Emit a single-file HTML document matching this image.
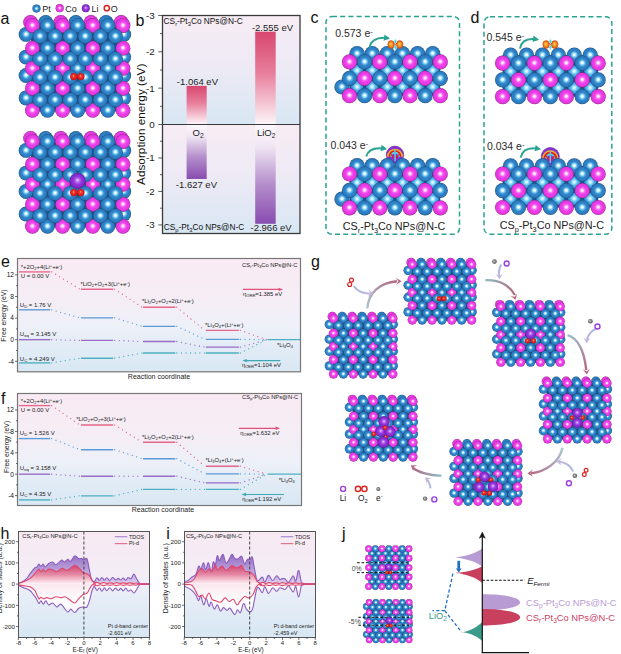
<!DOCTYPE html>
<html><head><meta charset="utf-8"><style>
html,body{margin:0;padding:0;background:#fff;width:621px;height:654px;overflow:hidden}
svg{display:block}
</style></head><body>
<svg width="621" height="654" viewBox="0 0 621 654" font-family='"Liberation Sans", sans-serif'>

<defs>
 <radialGradient id="gPt" cx="50%" cy="50%" r="50%" fx="50%" fy="47%">
  <stop offset="0" stop-color="#ffffff"/>
  <stop offset="0.13" stop-color="#e8ffff"/>
  <stop offset="0.34" stop-color="#68bdf0"/>
  <stop offset="0.52" stop-color="#3388cc"/>
  <stop offset="0.86" stop-color="#2b78bc"/>
  <stop offset="0.95" stop-color="#23609a"/>
  <stop offset="1" stop-color="#1c4b7a"/>
 </radialGradient>
 <radialGradient id="gCo" cx="50%" cy="50%" r="50%" fx="50%" fy="47%">
  <stop offset="0" stop-color="#ffffff"/>
  <stop offset="0.13" stop-color="#ffe6ff"/>
  <stop offset="0.34" stop-color="#f766f2"/>
  <stop offset="0.52" stop-color="#ef40ea"/>
  <stop offset="0.86" stop-color="#e236de"/>
  <stop offset="0.95" stop-color="#b42cac"/>
  <stop offset="1" stop-color="#7e1c7c"/>
 </radialGradient>
 <radialGradient id="gLi" cx="50%" cy="50%" r="50%" fx="50%" fy="45%">
  <stop offset="0" stop-color="#f6e6ff"/>
  <stop offset="0.18" stop-color="#c27ef2"/>
  <stop offset="0.5" stop-color="#9636de"/>
  <stop offset="0.88" stop-color="#7e26c4"/>
  <stop offset="1" stop-color="#581890"/>
 </radialGradient>
 <radialGradient id="gO" cx="50%" cy="48%" r="52%" fx="45%" fy="40%">
  <stop offset="0" stop-color="#ffb0a8"/>
  <stop offset="0.3" stop-color="#f03a2c"/>
  <stop offset="0.85" stop-color="#d8161a"/>
  <stop offset="1" stop-color="#9a1010"/>
 </radialGradient>
 <radialGradient id="gLb" cx="50%" cy="48%" r="52%">
  <stop offset="0" stop-color="#ffffff"/>
  <stop offset="0.2" stop-color="#bfefff"/>
  <stop offset="0.55" stop-color="#52b6f0"/>
  <stop offset="1" stop-color="#2c86c8"/>
 </radialGradient>
 <radialGradient id="gE" cx="50%" cy="50%" r="50%" fx="40%" fy="40%">
  <stop offset="0" stop-color="#dddddd"/>
  <stop offset="0.5" stop-color="#888888"/>
  <stop offset="1" stop-color="#555555"/>
 </radialGradient>
 <radialGradient id="gOr" cx="50%" cy="50%" r="50%" fx="45%" fy="40%">
  <stop offset="0" stop-color="#ffd060"/>
  <stop offset="0.5" stop-color="#f59a20"/>
  <stop offset="1" stop-color="#d2581a"/>
 </radialGradient>
 <linearGradient id="bgB" x1="0" y1="0" x2="0" y2="1">
  <stop offset="0" stop-color="#f7ecf4"/>
  <stop offset="0.45" stop-color="#eeeaf5"/>
  <stop offset="1" stop-color="#d8e7f3"/>
 </linearGradient>
 <linearGradient id="barR" x1="0" y1="0" x2="0" y2="1">
  <stop offset="0" stop-color="#d8466f"/>
  <stop offset="0.45" stop-color="#e87f9c"/>
  <stop offset="1" stop-color="#fdf6fa"/>
 </linearGradient>
 <linearGradient id="barP" x1="0" y1="0" x2="0" y2="1">
  <stop offset="0" stop-color="#fcf8fc"/>
  <stop offset="0.22" stop-color="#f0e6f3"/>
  <stop offset="0.6" stop-color="#b48ecb"/>
  <stop offset="1" stop-color="#884db0"/>
 </linearGradient>
 <linearGradient id="bgE" x1="0" y1="0" x2="0" y2="1">
  <stop offset="0" stop-color="#f9eaf3"/>
  <stop offset="0.35" stop-color="#f5edf5"/>
  <stop offset="0.62" stop-color="#edf0f8"/>
  <stop offset="0.76" stop-color="#e3ecf6"/>
  <stop offset="1" stop-color="#d9e8f4"/>
 </linearGradient>
 <linearGradient id="bgH" x1="0" y1="0" x2="0" y2="1">
  <stop offset="0" stop-color="#f7e9f2"/>
  <stop offset="0.42" stop-color="#f3edf6"/>
  <stop offset="0.58" stop-color="#e9eef7"/>
  <stop offset="1" stop-color="#d7e7f3"/>
 </linearGradient>
 <linearGradient id="fTd" x1="0" y1="0" x2="0" y2="1">
  <stop offset="0" stop-color="#9468c2"/>
  <stop offset="1" stop-color="#c9b3de"/>
 </linearGradient>
 <linearGradient id="fPd" x1="0" y1="0" x2="0" y2="1">
  <stop offset="0" stop-color="#d24a72"/>
  <stop offset="1" stop-color="#fff6f9"/>
 </linearGradient>
 <linearGradient id="fDn" x1="0" y1="0" x2="0" y2="1">
  <stop offset="0" stop-color="#fbeef4"/>
  <stop offset="1" stop-color="#ffffff"/>
 </linearGradient>
 <linearGradient id="arR" x1="0" y1="1" x2="1" y2="0">
  <stop offset="0" stop-color="#a9c4d6"/>
  <stop offset="0.5" stop-color="#b89ab2"/>
  <stop offset="1" stop-color="#b86a82"/>
 </linearGradient>
 <linearGradient id="arL" x1="0" y1="0" x2="1" y2="1">
  <stop offset="0" stop-color="#c9b7e0"/>
  <stop offset="1" stop-color="#a8b5d8"/>
 </linearGradient>
 <marker id="mT" viewBox="0 0 10 10" refX="5" refY="5" markerWidth="4" markerHeight="4" orient="auto">
  <path d="M0,0 L10,5 L0,10 z" fill="#2aa393"/>
 </marker>
</defs>

<rect width="621" height="654" fill="#ffffff"/>
<text x="0.50" y="24.20" font-size="16" fill="#111" text-anchor="start" >a</text>
<circle cx="36.50" cy="8.60" r="4.10" fill="url(#gPt)"/>
<text x="42.20" y="11.80" font-size="9.0" fill="#222" text-anchor="start" >Pt</text>
<circle cx="59.70" cy="8.20" r="4.10" fill="url(#gCo)"/>
<text x="65.20" y="11.80" font-size="9.0" fill="#222" text-anchor="start" >Co</text>
<circle cx="85.80" cy="8.20" r="4.00" fill="url(#gLi)"/>
<text x="91.60" y="11.80" font-size="9.0" fill="#222" text-anchor="start" >Li</text>
<circle cx="106.8" cy="8.2" r="2.6" fill="#fff" stroke="#e0201c" stroke-width="1.5"/>
<text x="110.80" y="11.80" font-size="9.0" fill="#222" text-anchor="start" >O</text>
<rect x="30.89" y="23.99" width="93.62" height="87.58" fill="#1e5288"/>
<circle cx="30.59" cy="22.48" r="7.40" fill="url(#gCo)"/>
<circle cx="45.69" cy="22.48" r="7.40" fill="url(#gPt)"/>
<circle cx="60.79" cy="22.48" r="7.40" fill="url(#gCo)"/>
<circle cx="75.89" cy="22.48" r="7.40" fill="url(#gPt)"/>
<circle cx="90.99" cy="22.48" r="7.40" fill="url(#gCo)"/>
<circle cx="106.09" cy="22.48" r="7.40" fill="url(#gPt)"/>
<circle cx="121.19" cy="22.48" r="7.40" fill="url(#gCo)"/>
<circle cx="26.06" cy="34.41" r="7.40" fill="url(#gPt)"/>
<circle cx="123.75" cy="34.41" r="7.40" fill="url(#gPt)"/>
<circle cx="26.06" cy="57.06" r="7.40" fill="url(#gPt)"/>
<circle cx="123.75" cy="57.06" r="7.40" fill="url(#gPt)"/>
<circle cx="26.06" cy="75.48" r="7.40" fill="url(#gPt)"/>
<circle cx="123.75" cy="75.48" r="7.40" fill="url(#gPt)"/>
<circle cx="26.06" cy="97.98" r="7.40" fill="url(#gPt)"/>
<circle cx="123.75" cy="97.98" r="7.40" fill="url(#gPt)"/>
<circle cx="32.40" cy="25.50" r="7.40" fill="url(#gCo)"/>
<circle cx="47.50" cy="25.50" r="7.40" fill="url(#gPt)"/>
<circle cx="62.60" cy="25.50" r="7.40" fill="url(#gCo)"/>
<circle cx="77.70" cy="25.50" r="7.40" fill="url(#gPt)"/>
<circle cx="92.80" cy="25.50" r="7.40" fill="url(#gCo)"/>
<circle cx="107.90" cy="25.50" r="7.40" fill="url(#gPt)"/>
<circle cx="123.00" cy="25.50" r="7.40" fill="url(#gCo)"/>
<circle cx="32.40" cy="48.15" r="7.40" fill="url(#gCo)"/>
<circle cx="47.50" cy="48.15" r="7.40" fill="url(#gPt)"/>
<circle cx="62.60" cy="48.15" r="7.40" fill="url(#gCo)"/>
<circle cx="77.70" cy="48.15" r="7.40" fill="url(#gPt)"/>
<circle cx="92.80" cy="48.15" r="7.40" fill="url(#gCo)"/>
<circle cx="107.90" cy="48.15" r="7.40" fill="url(#gPt)"/>
<circle cx="123.00" cy="48.15" r="7.40" fill="url(#gCo)"/>
<circle cx="32.40" cy="68.38" r="7.40" fill="url(#gCo)"/>
<circle cx="47.50" cy="68.38" r="7.40" fill="url(#gPt)"/>
<circle cx="62.60" cy="68.38" r="7.40" fill="url(#gCo)"/>
<circle cx="77.70" cy="68.38" r="7.40" fill="url(#gPt)"/>
<circle cx="92.80" cy="68.38" r="7.40" fill="url(#gCo)"/>
<circle cx="107.90" cy="68.38" r="7.40" fill="url(#gPt)"/>
<circle cx="123.00" cy="68.38" r="7.40" fill="url(#gCo)"/>
<circle cx="32.40" cy="88.32" r="7.40" fill="url(#gCo)"/>
<circle cx="47.50" cy="88.32" r="7.40" fill="url(#gPt)"/>
<circle cx="62.60" cy="88.32" r="7.40" fill="url(#gCo)"/>
<circle cx="77.70" cy="88.32" r="7.40" fill="url(#gPt)"/>
<circle cx="92.80" cy="88.32" r="7.40" fill="url(#gCo)"/>
<circle cx="107.90" cy="88.32" r="7.40" fill="url(#gPt)"/>
<circle cx="123.00" cy="88.32" r="7.40" fill="url(#gCo)"/>
<circle cx="32.40" cy="110.36" r="7.40" fill="url(#gCo)"/>
<circle cx="47.50" cy="110.36" r="7.40" fill="url(#gPt)"/>
<circle cx="62.60" cy="110.36" r="7.40" fill="url(#gCo)"/>
<circle cx="77.70" cy="110.36" r="7.40" fill="url(#gPt)"/>
<circle cx="92.80" cy="110.36" r="7.40" fill="url(#gCo)"/>
<circle cx="107.90" cy="110.36" r="7.40" fill="url(#gPt)"/>
<circle cx="123.00" cy="110.36" r="7.40" fill="url(#gCo)"/>
<circle cx="39.95" cy="36.22" r="7.40" fill="url(#gPt)"/>
<circle cx="55.05" cy="36.22" r="7.40" fill="url(#gPt)"/>
<circle cx="70.15" cy="36.22" r="7.40" fill="url(#gPt)"/>
<circle cx="85.25" cy="36.22" r="7.40" fill="url(#gPt)"/>
<circle cx="100.35" cy="36.22" r="7.40" fill="url(#gPt)"/>
<circle cx="115.45" cy="36.22" r="7.40" fill="url(#gPt)"/>
<circle cx="39.95" cy="58.87" r="7.40" fill="url(#gPt)"/>
<circle cx="55.05" cy="58.87" r="7.40" fill="url(#gPt)"/>
<circle cx="70.15" cy="58.87" r="7.40" fill="url(#gPt)"/>
<circle cx="85.25" cy="58.87" r="7.40" fill="url(#gPt)"/>
<circle cx="100.35" cy="58.87" r="7.40" fill="url(#gPt)"/>
<circle cx="115.45" cy="58.87" r="7.40" fill="url(#gPt)"/>
<circle cx="39.95" cy="77.29" r="7.40" fill="url(#gPt)"/>
<circle cx="55.05" cy="77.29" r="7.40" fill="url(#gPt)"/>
<circle cx="70.15" cy="77.29" r="7.40" fill="url(#gPt)"/>
<circle cx="85.25" cy="77.29" r="7.40" fill="url(#gPt)"/>
<circle cx="100.35" cy="77.29" r="7.40" fill="url(#gPt)"/>
<circle cx="115.45" cy="77.29" r="7.40" fill="url(#gPt)"/>
<circle cx="39.95" cy="99.79" r="7.40" fill="url(#gPt)"/>
<circle cx="55.05" cy="99.79" r="7.40" fill="url(#gPt)"/>
<circle cx="70.15" cy="99.79" r="7.40" fill="url(#gPt)"/>
<circle cx="85.25" cy="99.79" r="7.40" fill="url(#gPt)"/>
<circle cx="100.35" cy="99.79" r="7.40" fill="url(#gPt)"/>
<circle cx="115.45" cy="99.79" r="7.40" fill="url(#gPt)"/>
<circle cx="73.78" cy="76.60" r="3.70" fill="url(#gO)"/>
<circle cx="80.81" cy="76.60" r="3.70" fill="url(#gO)"/>
<rect x="30.89" y="139.99" width="93.62" height="87.58" fill="#1e5288"/>
<circle cx="30.59" cy="138.48" r="7.40" fill="url(#gCo)"/>
<circle cx="45.69" cy="138.48" r="7.40" fill="url(#gPt)"/>
<circle cx="60.79" cy="138.48" r="7.40" fill="url(#gCo)"/>
<circle cx="75.89" cy="138.48" r="7.40" fill="url(#gPt)"/>
<circle cx="90.99" cy="138.48" r="7.40" fill="url(#gCo)"/>
<circle cx="106.09" cy="138.48" r="7.40" fill="url(#gPt)"/>
<circle cx="121.19" cy="138.48" r="7.40" fill="url(#gCo)"/>
<circle cx="26.06" cy="150.41" r="7.40" fill="url(#gPt)"/>
<circle cx="123.75" cy="150.41" r="7.40" fill="url(#gPt)"/>
<circle cx="26.06" cy="173.06" r="7.40" fill="url(#gPt)"/>
<circle cx="123.75" cy="173.06" r="7.40" fill="url(#gPt)"/>
<circle cx="26.06" cy="191.48" r="7.40" fill="url(#gPt)"/>
<circle cx="123.75" cy="191.48" r="7.40" fill="url(#gPt)"/>
<circle cx="26.06" cy="213.98" r="7.40" fill="url(#gPt)"/>
<circle cx="123.75" cy="213.98" r="7.40" fill="url(#gPt)"/>
<circle cx="32.40" cy="141.50" r="7.40" fill="url(#gCo)"/>
<circle cx="47.50" cy="141.50" r="7.40" fill="url(#gPt)"/>
<circle cx="62.60" cy="141.50" r="7.40" fill="url(#gCo)"/>
<circle cx="77.70" cy="141.50" r="7.40" fill="url(#gPt)"/>
<circle cx="92.80" cy="141.50" r="7.40" fill="url(#gCo)"/>
<circle cx="107.90" cy="141.50" r="7.40" fill="url(#gPt)"/>
<circle cx="123.00" cy="141.50" r="7.40" fill="url(#gCo)"/>
<circle cx="32.40" cy="164.15" r="7.40" fill="url(#gCo)"/>
<circle cx="47.50" cy="164.15" r="7.40" fill="url(#gPt)"/>
<circle cx="62.60" cy="164.15" r="7.40" fill="url(#gCo)"/>
<circle cx="77.70" cy="164.15" r="7.40" fill="url(#gPt)"/>
<circle cx="92.80" cy="164.15" r="7.40" fill="url(#gCo)"/>
<circle cx="107.90" cy="164.15" r="7.40" fill="url(#gPt)"/>
<circle cx="123.00" cy="164.15" r="7.40" fill="url(#gCo)"/>
<circle cx="32.40" cy="184.38" r="7.40" fill="url(#gCo)"/>
<circle cx="47.50" cy="184.38" r="7.40" fill="url(#gPt)"/>
<circle cx="62.60" cy="184.38" r="7.40" fill="url(#gCo)"/>
<circle cx="77.70" cy="184.38" r="7.40" fill="url(#gPt)"/>
<circle cx="92.80" cy="184.38" r="7.40" fill="url(#gCo)"/>
<circle cx="107.90" cy="184.38" r="7.40" fill="url(#gPt)"/>
<circle cx="123.00" cy="184.38" r="7.40" fill="url(#gCo)"/>
<circle cx="32.40" cy="204.32" r="7.40" fill="url(#gCo)"/>
<circle cx="47.50" cy="204.32" r="7.40" fill="url(#gPt)"/>
<circle cx="62.60" cy="204.32" r="7.40" fill="url(#gCo)"/>
<circle cx="77.70" cy="204.32" r="7.40" fill="url(#gPt)"/>
<circle cx="92.80" cy="204.32" r="7.40" fill="url(#gCo)"/>
<circle cx="107.90" cy="204.32" r="7.40" fill="url(#gPt)"/>
<circle cx="123.00" cy="204.32" r="7.40" fill="url(#gCo)"/>
<circle cx="32.40" cy="226.36" r="7.40" fill="url(#gCo)"/>
<circle cx="47.50" cy="226.36" r="7.40" fill="url(#gPt)"/>
<circle cx="62.60" cy="226.36" r="7.40" fill="url(#gCo)"/>
<circle cx="77.70" cy="226.36" r="7.40" fill="url(#gPt)"/>
<circle cx="92.80" cy="226.36" r="7.40" fill="url(#gCo)"/>
<circle cx="107.90" cy="226.36" r="7.40" fill="url(#gPt)"/>
<circle cx="123.00" cy="226.36" r="7.40" fill="url(#gCo)"/>
<circle cx="39.95" cy="152.22" r="7.40" fill="url(#gPt)"/>
<circle cx="55.05" cy="152.22" r="7.40" fill="url(#gPt)"/>
<circle cx="70.15" cy="152.22" r="7.40" fill="url(#gPt)"/>
<circle cx="85.25" cy="152.22" r="7.40" fill="url(#gPt)"/>
<circle cx="100.35" cy="152.22" r="7.40" fill="url(#gPt)"/>
<circle cx="115.45" cy="152.22" r="7.40" fill="url(#gPt)"/>
<circle cx="39.95" cy="174.87" r="7.40" fill="url(#gPt)"/>
<circle cx="55.05" cy="174.87" r="7.40" fill="url(#gPt)"/>
<circle cx="70.15" cy="174.87" r="7.40" fill="url(#gPt)"/>
<circle cx="85.25" cy="174.87" r="7.40" fill="url(#gPt)"/>
<circle cx="100.35" cy="174.87" r="7.40" fill="url(#gPt)"/>
<circle cx="115.45" cy="174.87" r="7.40" fill="url(#gPt)"/>
<circle cx="39.95" cy="193.29" r="7.40" fill="url(#gPt)"/>
<circle cx="55.05" cy="193.29" r="7.40" fill="url(#gPt)"/>
<circle cx="70.15" cy="193.29" r="7.40" fill="url(#gPt)"/>
<circle cx="85.25" cy="193.29" r="7.40" fill="url(#gPt)"/>
<circle cx="100.35" cy="193.29" r="7.40" fill="url(#gPt)"/>
<circle cx="115.45" cy="193.29" r="7.40" fill="url(#gPt)"/>
<circle cx="39.95" cy="215.79" r="7.40" fill="url(#gPt)"/>
<circle cx="55.05" cy="215.79" r="7.40" fill="url(#gPt)"/>
<circle cx="70.15" cy="215.79" r="7.40" fill="url(#gPt)"/>
<circle cx="85.25" cy="215.79" r="7.40" fill="url(#gPt)"/>
<circle cx="100.35" cy="215.79" r="7.40" fill="url(#gPt)"/>
<circle cx="115.45" cy="215.79" r="7.40" fill="url(#gPt)"/>
<circle cx="77.60" cy="180.90" r="8.00" fill="url(#gLi)"/>
<circle cx="73.78" cy="192.60" r="3.70" fill="url(#gO)"/>
<circle cx="80.81" cy="192.60" r="3.70" fill="url(#gO)"/>
<text x="135.60" y="25.90" font-size="16" fill="#111" text-anchor="start" >b</text>
<rect x="162.5" y="15.5" width="137.5" height="109.0" fill="url(#bgB)"/>
<rect x="162.5" y="124.5" width="137.5" height="109.0" fill="url(#bgB)"/>
<rect x="186.6" y="85.84" width="20.1" height="38.66" fill="url(#barR)"/>
<rect x="255.2" y="31.67" width="20.5" height="92.83" fill="url(#barR)"/>
<rect x="186.6" y="124.5" width="20.1" height="54.45" fill="url(#barP)"/>
<rect x="255.2" y="124.5" width="20.5" height="99.26" fill="url(#barP)"/>
<rect x="162.5" y="15.5" width="137.5" height="218.0" fill="none" stroke="#3a3a3a" stroke-width="1.3"/>
<line x1="162.5" y1="124.5" x2="300.0" y2="124.5" stroke="#3a3a3a" stroke-width="1"/>
<line x1="158.3" y1="124.50" x2="162.5" y2="124.50" stroke="#333" stroke-width="0.8"/>
<text x="154.70" y="128.00" font-size="9.8" fill="#222" text-anchor="end" >0</text>
<line x1="160.0" y1="106.33" x2="162.5" y2="106.33" stroke="#333" stroke-width="0.8"/>
<line x1="158.3" y1="88.17" x2="162.5" y2="88.17" stroke="#333" stroke-width="0.8"/>
<text x="154.70" y="91.67" font-size="9.8" fill="#222" text-anchor="end" >-1</text>
<line x1="160.0" y1="70.00" x2="162.5" y2="70.00" stroke="#333" stroke-width="0.8"/>
<line x1="158.3" y1="51.83" x2="162.5" y2="51.83" stroke="#333" stroke-width="0.8"/>
<text x="154.70" y="55.33" font-size="9.8" fill="#222" text-anchor="end" >-2</text>
<line x1="160.0" y1="33.67" x2="162.5" y2="33.67" stroke="#333" stroke-width="0.8"/>
<line x1="158.3" y1="15.50" x2="162.5" y2="15.50" stroke="#333" stroke-width="0.8"/>
<text x="154.70" y="19.00" font-size="9.8" fill="#222" text-anchor="end" >-3</text>
<line x1="158.3" y1="157.97" x2="162.5" y2="157.97" stroke="#333" stroke-width="0.8"/>
<text x="154.70" y="161.47" font-size="9.8" fill="#222" text-anchor="end" >-1</text>
<line x1="160.0" y1="141.23" x2="162.5" y2="141.23" stroke="#333" stroke-width="0.8"/>
<line x1="158.3" y1="191.43" x2="162.5" y2="191.43" stroke="#333" stroke-width="0.8"/>
<text x="154.70" y="194.93" font-size="9.8" fill="#222" text-anchor="end" >-2</text>
<line x1="160.0" y1="174.70" x2="162.5" y2="174.70" stroke="#333" stroke-width="0.8"/>
<line x1="158.3" y1="224.90" x2="162.5" y2="224.90" stroke="#333" stroke-width="0.8"/>
<text x="154.70" y="228.40" font-size="9.8" fill="#222" text-anchor="end" >-3</text>
<line x1="160.0" y1="208.17" x2="162.5" y2="208.17" stroke="#333" stroke-width="0.8"/>
<text transform="translate(144.6,124.3) rotate(-90)" font-size="11.8" text-anchor="middle" fill="#111">Adsorption energy (eV)</text>
<text x="163.60" y="24.00" font-size="8.3" fill="#111" text-anchor="start" >CS<tspan baseline-shift="-25%" font-size="70%">r</tspan>-Pt<tspan baseline-shift="-25%" font-size="70%">3</tspan>Co NPs@N-C</text>
<text x="163.80" y="229.80" font-size="8.3" fill="#111" text-anchor="start" >CS<tspan baseline-shift="-25%" font-size="70%">p</tspan>-Pt<tspan baseline-shift="-25%" font-size="70%">3</tspan>Co NPs@N-C</text>
<text x="197.40" y="84.50" font-size="9.5" fill="#222" text-anchor="middle" >-1.064 eV</text>
<text x="272.50" y="31.10" font-size="9.5" fill="#222" text-anchor="middle" >-2.555 eV</text>
<text x="196.40" y="187.80" font-size="9.5" fill="#222" text-anchor="middle" >-1.627 eV</text>
<text x="271.10" y="230.60" font-size="9.5" fill="#222" text-anchor="middle" >-2.966 eV</text>
<text x="192.50" y="135.80" font-size="9.5" fill="#222" text-anchor="start" >O<tspan baseline-shift="-25%" font-size="70%">2</tspan></text>
<text x="256.90" y="135.80" font-size="9.5" fill="#222" text-anchor="start" >LiO<tspan baseline-shift="-25%" font-size="70%">2</tspan></text>
<text x="310.50" y="22.50" font-size="16" fill="#111" text-anchor="start" >c</text>
<text x="470.50" y="23.00" font-size="16" fill="#111" text-anchor="start" >d</text>
<rect x="326" y="16.5" width="133.5" height="217.8" rx="6" fill="none" stroke="#2aa393" stroke-width="1.5" stroke-dasharray="5,3.2"/>
<rect x="484" y="16.8" width="127.8" height="217.4" rx="6" fill="none" stroke="#2aa393" stroke-width="1.5" stroke-dasharray="5,3.2"/>
<rect x="349.50" y="53.60" width="90.78" height="42.10" fill="#1e5288"/>
<circle cx="341.94" cy="87.00" r="7.60" fill="url(#gPt)"/>
<circle cx="357.06" cy="53.60" r="7.60" fill="url(#gPt)"/>
<circle cx="372.19" cy="53.60" r="7.60" fill="url(#gPt)"/>
<circle cx="387.32" cy="53.60" r="7.60" fill="url(#gPt)"/>
<circle cx="402.45" cy="53.60" r="7.60" fill="url(#gPt)"/>
<circle cx="417.59" cy="53.60" r="7.60" fill="url(#gPt)"/>
<circle cx="432.72" cy="53.60" r="7.60" fill="url(#gPt)"/>
<circle cx="357.06" cy="70.60" r="6.08" fill="url(#gLb)"/>
<circle cx="372.19" cy="70.60" r="6.08" fill="url(#gLb)"/>
<circle cx="387.32" cy="70.60" r="6.08" fill="url(#gLb)"/>
<circle cx="402.45" cy="70.60" r="6.08" fill="url(#gLb)"/>
<circle cx="417.59" cy="70.60" r="6.08" fill="url(#gLb)"/>
<circle cx="432.72" cy="70.60" r="6.08" fill="url(#gLb)"/>
<circle cx="357.06" cy="87.00" r="6.08" fill="url(#gLb)"/>
<circle cx="372.19" cy="87.00" r="6.08" fill="url(#gLb)"/>
<circle cx="387.32" cy="87.00" r="6.08" fill="url(#gLb)"/>
<circle cx="402.45" cy="87.00" r="6.08" fill="url(#gLb)"/>
<circle cx="417.59" cy="87.00" r="6.08" fill="url(#gLb)"/>
<circle cx="432.72" cy="87.00" r="6.08" fill="url(#gLb)"/>
<circle cx="349.50" cy="61.90" r="7.60" fill="url(#gCo)"/>
<circle cx="364.63" cy="61.90" r="7.60" fill="url(#gPt)"/>
<circle cx="379.76" cy="61.90" r="7.60" fill="url(#gCo)"/>
<circle cx="394.89" cy="61.90" r="7.60" fill="url(#gPt)"/>
<circle cx="410.02" cy="61.90" r="7.60" fill="url(#gCo)"/>
<circle cx="425.15" cy="61.90" r="7.60" fill="url(#gPt)"/>
<circle cx="440.28" cy="61.90" r="7.60" fill="url(#gCo)"/>
<circle cx="349.50" cy="78.30" r="7.60" fill="url(#gPt)"/>
<circle cx="364.63" cy="78.30" r="7.60" fill="url(#gCo)"/>
<circle cx="379.76" cy="78.30" r="7.60" fill="url(#gPt)"/>
<circle cx="394.89" cy="78.30" r="7.60" fill="url(#gCo)"/>
<circle cx="410.02" cy="78.30" r="7.60" fill="url(#gPt)"/>
<circle cx="425.15" cy="78.30" r="7.60" fill="url(#gCo)"/>
<circle cx="440.28" cy="78.30" r="7.60" fill="url(#gPt)"/>
<circle cx="349.50" cy="95.70" r="7.60" fill="url(#gCo)"/>
<circle cx="364.63" cy="95.70" r="7.60" fill="url(#gPt)"/>
<circle cx="379.76" cy="95.70" r="7.60" fill="url(#gCo)"/>
<circle cx="394.89" cy="95.70" r="7.60" fill="url(#gPt)"/>
<circle cx="410.02" cy="95.70" r="7.60" fill="url(#gCo)"/>
<circle cx="425.15" cy="95.70" r="7.60" fill="url(#gPt)"/>
<circle cx="440.28" cy="95.70" r="7.60" fill="url(#gCo)"/>
<circle cx="395.0" cy="154.8" r="8.7" fill="#8a2fd6" stroke="#5a1a90" stroke-width="0.6"/>
<path d="M387.87,156.71 A7.13,7.13 0 0 1 402.13,156.71" stroke="#f2b020" stroke-width="1.74" fill="none"/>
<path d="M389.43,156.71 A5.57,5.57 0 0 1 400.57,156.71" stroke="#e81c10" stroke-width="1.74" fill="none"/>
<path d="M391.00,156.71 A4.00,4.00 0 0 1 399.00,156.71" stroke="#5ad8e0" stroke-width="1.74" fill="none"/>
<path d="M391.08,154.37 L395.00,159.15 L398.92,154.37" stroke="#e81c10" stroke-width="1.2" fill="none"/>
<path d="M395.00,149.58 L395.00,160.89" stroke="#58c8f0" stroke-width="1.5"/>
<rect x="349.50" y="165.70" width="90.78" height="42.10" fill="#1e5288"/>
<circle cx="341.94" cy="199.10" r="7.60" fill="url(#gPt)"/>
<circle cx="357.06" cy="165.70" r="7.60" fill="url(#gPt)"/>
<circle cx="372.19" cy="165.70" r="7.60" fill="url(#gPt)"/>
<circle cx="387.32" cy="165.70" r="7.60" fill="url(#gPt)"/>
<circle cx="402.45" cy="165.70" r="7.60" fill="url(#gPt)"/>
<circle cx="417.59" cy="165.70" r="7.60" fill="url(#gPt)"/>
<circle cx="432.72" cy="165.70" r="7.60" fill="url(#gPt)"/>
<circle cx="357.06" cy="182.70" r="6.08" fill="url(#gLb)"/>
<circle cx="372.19" cy="182.70" r="6.08" fill="url(#gLb)"/>
<circle cx="387.32" cy="182.70" r="6.08" fill="url(#gLb)"/>
<circle cx="402.45" cy="182.70" r="6.08" fill="url(#gLb)"/>
<circle cx="417.59" cy="182.70" r="6.08" fill="url(#gLb)"/>
<circle cx="432.72" cy="182.70" r="6.08" fill="url(#gLb)"/>
<circle cx="357.06" cy="199.10" r="6.08" fill="url(#gLb)"/>
<circle cx="372.19" cy="199.10" r="6.08" fill="url(#gLb)"/>
<circle cx="387.32" cy="199.10" r="6.08" fill="url(#gLb)"/>
<circle cx="402.45" cy="199.10" r="6.08" fill="url(#gLb)"/>
<circle cx="417.59" cy="199.10" r="6.08" fill="url(#gLb)"/>
<circle cx="432.72" cy="199.10" r="6.08" fill="url(#gLb)"/>
<circle cx="349.50" cy="174.00" r="7.60" fill="url(#gCo)"/>
<circle cx="364.63" cy="174.00" r="7.60" fill="url(#gPt)"/>
<circle cx="379.76" cy="174.00" r="7.60" fill="url(#gCo)"/>
<circle cx="394.89" cy="174.00" r="7.60" fill="url(#gPt)"/>
<circle cx="410.02" cy="174.00" r="7.60" fill="url(#gCo)"/>
<circle cx="425.15" cy="174.00" r="7.60" fill="url(#gPt)"/>
<circle cx="440.28" cy="174.00" r="7.60" fill="url(#gCo)"/>
<circle cx="349.50" cy="190.40" r="7.60" fill="url(#gPt)"/>
<circle cx="364.63" cy="190.40" r="7.60" fill="url(#gCo)"/>
<circle cx="379.76" cy="190.40" r="7.60" fill="url(#gPt)"/>
<circle cx="394.89" cy="190.40" r="7.60" fill="url(#gCo)"/>
<circle cx="410.02" cy="190.40" r="7.60" fill="url(#gPt)"/>
<circle cx="425.15" cy="190.40" r="7.60" fill="url(#gCo)"/>
<circle cx="440.28" cy="190.40" r="7.60" fill="url(#gPt)"/>
<circle cx="349.50" cy="207.80" r="7.60" fill="url(#gCo)"/>
<circle cx="364.63" cy="207.80" r="7.60" fill="url(#gPt)"/>
<circle cx="379.76" cy="207.80" r="7.60" fill="url(#gCo)"/>
<circle cx="394.89" cy="207.80" r="7.60" fill="url(#gPt)"/>
<circle cx="410.02" cy="207.80" r="7.60" fill="url(#gCo)"/>
<circle cx="425.15" cy="207.80" r="7.60" fill="url(#gPt)"/>
<circle cx="440.28" cy="207.80" r="7.60" fill="url(#gCo)"/>
<rect x="502.60" y="55.10" width="95.58" height="41.60" fill="#1e5288"/>
<circle cx="510.56" cy="55.10" r="7.60" fill="url(#gPt)"/>
<circle cx="526.50" cy="55.10" r="7.60" fill="url(#gPt)"/>
<circle cx="542.43" cy="55.10" r="7.60" fill="url(#gPt)"/>
<circle cx="558.36" cy="55.10" r="7.60" fill="url(#gPt)"/>
<circle cx="574.29" cy="55.10" r="7.60" fill="url(#gPt)"/>
<circle cx="590.22" cy="55.10" r="7.60" fill="url(#gPt)"/>
<circle cx="510.56" cy="71.50" r="6.08" fill="url(#gLb)"/>
<circle cx="526.50" cy="71.50" r="6.08" fill="url(#gLb)"/>
<circle cx="542.43" cy="71.50" r="6.08" fill="url(#gLb)"/>
<circle cx="558.36" cy="71.50" r="6.08" fill="url(#gLb)"/>
<circle cx="574.29" cy="71.50" r="6.08" fill="url(#gLb)"/>
<circle cx="590.22" cy="71.50" r="6.08" fill="url(#gLb)"/>
<circle cx="510.56" cy="88.00" r="6.08" fill="url(#gLb)"/>
<circle cx="526.50" cy="88.00" r="6.08" fill="url(#gLb)"/>
<circle cx="542.43" cy="88.00" r="6.08" fill="url(#gLb)"/>
<circle cx="558.36" cy="88.00" r="6.08" fill="url(#gLb)"/>
<circle cx="574.29" cy="88.00" r="6.08" fill="url(#gLb)"/>
<circle cx="590.22" cy="88.00" r="6.08" fill="url(#gLb)"/>
<circle cx="502.60" cy="63.20" r="7.60" fill="url(#gCo)"/>
<circle cx="518.53" cy="63.20" r="7.60" fill="url(#gPt)"/>
<circle cx="534.46" cy="63.20" r="7.60" fill="url(#gCo)"/>
<circle cx="550.39" cy="63.20" r="7.60" fill="url(#gPt)"/>
<circle cx="566.32" cy="63.20" r="7.60" fill="url(#gCo)"/>
<circle cx="582.25" cy="63.20" r="7.60" fill="url(#gPt)"/>
<circle cx="598.18" cy="63.20" r="7.60" fill="url(#gCo)"/>
<circle cx="502.60" cy="79.90" r="7.60" fill="url(#gPt)"/>
<circle cx="518.53" cy="79.90" r="7.60" fill="url(#gCo)"/>
<circle cx="534.46" cy="79.90" r="7.60" fill="url(#gPt)"/>
<circle cx="550.39" cy="79.90" r="7.60" fill="url(#gCo)"/>
<circle cx="566.32" cy="79.90" r="7.60" fill="url(#gPt)"/>
<circle cx="582.25" cy="79.90" r="7.60" fill="url(#gCo)"/>
<circle cx="598.18" cy="79.90" r="7.60" fill="url(#gPt)"/>
<circle cx="502.60" cy="96.70" r="7.60" fill="url(#gCo)"/>
<circle cx="518.53" cy="96.70" r="7.60" fill="url(#gPt)"/>
<circle cx="534.46" cy="96.70" r="7.60" fill="url(#gCo)"/>
<circle cx="550.39" cy="96.70" r="7.60" fill="url(#gPt)"/>
<circle cx="566.32" cy="96.70" r="7.60" fill="url(#gCo)"/>
<circle cx="582.25" cy="96.70" r="7.60" fill="url(#gPt)"/>
<circle cx="598.18" cy="96.70" r="7.60" fill="url(#gCo)"/>
<circle cx="550.3" cy="156.6" r="9.1" fill="#8a2fd6" stroke="#5a1a90" stroke-width="0.6"/>
<path d="M542.84,158.60 A7.46,7.46 0 0 1 557.76,158.60" stroke="#f2b020" stroke-width="1.82" fill="none"/>
<path d="M544.48,158.60 A5.82,5.82 0 0 1 556.12,158.60" stroke="#e81c10" stroke-width="1.82" fill="none"/>
<path d="M546.11,158.60 A4.19,4.19 0 0 1 554.49,158.60" stroke="#5ad8e0" stroke-width="1.82" fill="none"/>
<path d="M546.20,156.14 L550.30,161.15 L554.39,156.14" stroke="#e81c10" stroke-width="1.2" fill="none"/>
<path d="M550.30,151.14 L550.30,162.97" stroke="#58c8f0" stroke-width="1.5"/>
<rect x="502.60" y="165.90" width="95.58" height="41.60" fill="#1e5288"/>
<circle cx="510.56" cy="165.90" r="7.60" fill="url(#gPt)"/>
<circle cx="526.50" cy="165.90" r="7.60" fill="url(#gPt)"/>
<circle cx="542.43" cy="165.90" r="7.60" fill="url(#gPt)"/>
<circle cx="558.36" cy="165.90" r="7.60" fill="url(#gPt)"/>
<circle cx="574.29" cy="165.90" r="7.60" fill="url(#gPt)"/>
<circle cx="590.22" cy="165.90" r="7.60" fill="url(#gPt)"/>
<circle cx="510.56" cy="182.30" r="6.08" fill="url(#gLb)"/>
<circle cx="526.50" cy="182.30" r="6.08" fill="url(#gLb)"/>
<circle cx="542.43" cy="182.30" r="6.08" fill="url(#gLb)"/>
<circle cx="558.36" cy="182.30" r="6.08" fill="url(#gLb)"/>
<circle cx="574.29" cy="182.30" r="6.08" fill="url(#gLb)"/>
<circle cx="590.22" cy="182.30" r="6.08" fill="url(#gLb)"/>
<circle cx="510.56" cy="198.80" r="6.08" fill="url(#gLb)"/>
<circle cx="526.50" cy="198.80" r="6.08" fill="url(#gLb)"/>
<circle cx="542.43" cy="198.80" r="6.08" fill="url(#gLb)"/>
<circle cx="558.36" cy="198.80" r="6.08" fill="url(#gLb)"/>
<circle cx="574.29" cy="198.80" r="6.08" fill="url(#gLb)"/>
<circle cx="590.22" cy="198.80" r="6.08" fill="url(#gLb)"/>
<circle cx="502.60" cy="174.00" r="7.60" fill="url(#gCo)"/>
<circle cx="518.53" cy="174.00" r="7.60" fill="url(#gPt)"/>
<circle cx="534.46" cy="174.00" r="7.60" fill="url(#gCo)"/>
<circle cx="550.39" cy="174.00" r="7.60" fill="url(#gPt)"/>
<circle cx="566.32" cy="174.00" r="7.60" fill="url(#gCo)"/>
<circle cx="582.25" cy="174.00" r="7.60" fill="url(#gPt)"/>
<circle cx="598.18" cy="174.00" r="7.60" fill="url(#gCo)"/>
<circle cx="502.60" cy="190.70" r="7.60" fill="url(#gPt)"/>
<circle cx="518.53" cy="190.70" r="7.60" fill="url(#gCo)"/>
<circle cx="534.46" cy="190.70" r="7.60" fill="url(#gPt)"/>
<circle cx="550.39" cy="190.70" r="7.60" fill="url(#gCo)"/>
<circle cx="566.32" cy="190.70" r="7.60" fill="url(#gPt)"/>
<circle cx="582.25" cy="190.70" r="7.60" fill="url(#gCo)"/>
<circle cx="598.18" cy="190.70" r="7.60" fill="url(#gPt)"/>
<circle cx="502.60" cy="207.50" r="7.60" fill="url(#gCo)"/>
<circle cx="518.53" cy="207.50" r="7.60" fill="url(#gPt)"/>
<circle cx="534.46" cy="207.50" r="7.60" fill="url(#gCo)"/>
<circle cx="550.39" cy="207.50" r="7.60" fill="url(#gPt)"/>
<circle cx="566.32" cy="207.50" r="7.60" fill="url(#gCo)"/>
<circle cx="582.25" cy="207.50" r="7.60" fill="url(#gPt)"/>
<circle cx="598.18" cy="207.50" r="7.60" fill="url(#gCo)"/>
<ellipse cx="391.10" cy="44.50" rx="3.3" ry="3.9" fill="url(#gOr)" stroke="#d83a10" stroke-width="0.5"/>
<ellipse cx="399.70" cy="44.50" rx="3.3" ry="3.9" fill="url(#gOr)" stroke="#d83a10" stroke-width="0.5"/>
<path d="M395.4,38.9 L396.7,41.3 L395.4,43.9 L394.09999999999997,41.3 Z" fill="#38e0ec"/>
<path d="M395.4,44.7 L396.59999999999997,47.3 L395.4,50.1 L394.2,47.3 Z" fill="#38e0ec"/>
<path d="M393.79999999999995,43.0 L395.4,44.8 L397.0,43.0" stroke="#e02010" stroke-width="0.7" fill="none"/>
<ellipse cx="546.10" cy="44.50" rx="3.3" ry="3.9" fill="url(#gOr)" stroke="#d83a10" stroke-width="0.5"/>
<ellipse cx="554.70" cy="44.50" rx="3.3" ry="3.9" fill="url(#gOr)" stroke="#d83a10" stroke-width="0.5"/>
<path d="M550.4,38.9 L551.6999999999999,41.3 L550.4,43.9 L549.1,41.3 Z" fill="#38e0ec"/>
<path d="M550.4,44.7 L551.6,47.3 L550.4,50.1 L549.1999999999999,47.3 Z" fill="#38e0ec"/>
<path d="M548.8,43.0 L550.4,44.8 L552.0,43.0" stroke="#e02010" stroke-width="0.7" fill="none"/>
<path d="M369.4,47.6 Q372,36 388.5,38.2" stroke="#2aa393" stroke-width="2" fill="none"/>
<path d="M389.99,38.40 L383.62,40.78 L384.46,34.43 z" fill="#2aa393"/>
<path d="M520.0,48.6 Q522,37 537.5,39.5" stroke="#2aa393" stroke-width="2" fill="none"/>
<path d="M538.98,39.74 L532.55,41.94 L533.57,35.62 z" fill="#2aa393"/>
<path d="M366.2,156.6 Q369,146 385.5,148.7" stroke="#2aa393" stroke-width="2" fill="none"/>
<path d="M386.98,148.94 L380.54,151.13 L381.58,144.82 z" fill="#2aa393"/>
<path d="M520.8,157.6 Q523,146 539.5,148.9" stroke="#2aa393" stroke-width="2" fill="none"/>
<path d="M540.98,149.16 L534.51,151.27 L535.62,144.97 z" fill="#2aa393"/>
<text x="335.20" y="37.00" font-size="10.5" fill="#2a2a2a" text-anchor="start" >0.573 e<tspan baseline-shift="45%" font-size="70%">-</tspan></text>
<text x="486.50" y="40.80" font-size="10.5" fill="#2a2a2a" text-anchor="start" >0.545 e<tspan baseline-shift="45%" font-size="70%">-</tspan></text>
<text x="330.60" y="148.80" font-size="10.5" fill="#2a2a2a" text-anchor="start" >0.043 e<tspan baseline-shift="45%" font-size="70%">-</tspan></text>
<text x="486.90" y="149.70" font-size="10.5" fill="#2a2a2a" text-anchor="start" >0.034 e<tspan baseline-shift="45%" font-size="70%">-</tspan></text>
<text x="342.70" y="229.50" font-size="10.8" fill="#222" text-anchor="start" >CS<tspan baseline-shift="-38%" font-size="68%">r</tspan>-Pt<tspan baseline-shift="-38%" font-size="68%">3</tspan>Co NPs@N-C</text>
<text x="499.70" y="228.70" font-size="10.8" fill="#222" text-anchor="start" >CS<tspan baseline-shift="-38%" font-size="68%">p</tspan>-Pt<tspan baseline-shift="-38%" font-size="68%">3</tspan>Co NPs@N-C</text>
<rect x="17.5" y="258.5" width="283.0" height="113.30000000000001" fill="url(#bgE)"/>
<text x="1.00" y="266.80" font-size="16" fill="#111" text-anchor="start" >e</text>
<line x1="19.0" y1="271.9" x2="50.2" y2="271.9" stroke="#e5688a" stroke-width="1.35"/>
<line x1="51.7" y1="271.9" x2="80.0" y2="289.2" stroke="#e5688a" stroke-width="1.3" stroke-dasharray="0.01,4.6" stroke-linecap="round"/>
<line x1="81.0" y1="289.2" x2="113.2" y2="289.2" stroke="#e5688a" stroke-width="1.35"/>
<line x1="114.7" y1="289.2" x2="142.0" y2="307.2" stroke="#e5688a" stroke-width="1.3" stroke-dasharray="0.01,4.6" stroke-linecap="round"/>
<line x1="143.0" y1="307.2" x2="175.3" y2="307.2" stroke="#e5688a" stroke-width="1.35"/>
<line x1="176.8" y1="307.2" x2="204.8" y2="330.4" stroke="#e5688a" stroke-width="1.3" stroke-dasharray="0.01,4.6" stroke-linecap="round"/>
<line x1="205.8" y1="330.4" x2="238.9" y2="330.4" stroke="#e5688a" stroke-width="1.35"/>
<line x1="240.4" y1="330.4" x2="266.5" y2="339.7" stroke="#e5688a" stroke-width="1.3" stroke-dasharray="0.01,4.6" stroke-linecap="round"/>
<line x1="19.0" y1="309.8" x2="50.2" y2="309.8" stroke="#5a9ad6" stroke-width="1.35"/>
<line x1="51.7" y1="309.8" x2="80.0" y2="317.8" stroke="#5a9ad6" stroke-width="1.3" stroke-dasharray="0.01,4.6" stroke-linecap="round"/>
<line x1="81.0" y1="317.8" x2="113.2" y2="317.8" stroke="#5a9ad6" stroke-width="1.35"/>
<line x1="114.7" y1="317.8" x2="142.0" y2="326.3" stroke="#5a9ad6" stroke-width="1.3" stroke-dasharray="0.01,4.6" stroke-linecap="round"/>
<line x1="143.0" y1="326.3" x2="175.3" y2="326.3" stroke="#5a9ad6" stroke-width="1.35"/>
<line x1="176.8" y1="326.3" x2="204.8" y2="339.4" stroke="#5a9ad6" stroke-width="1.3" stroke-dasharray="0.01,4.6" stroke-linecap="round"/>
<line x1="205.8" y1="339.4" x2="238.9" y2="339.4" stroke="#5a9ad6" stroke-width="1.35"/>
<line x1="240.4" y1="339.4" x2="266.5" y2="339.7" stroke="#5a9ad6" stroke-width="1.3" stroke-dasharray="0.01,4.6" stroke-linecap="round"/>
<line x1="19.0" y1="339.7" x2="50.2" y2="339.7" stroke="#9a6cc8" stroke-width="1.35"/>
<line x1="51.7" y1="339.7" x2="80.0" y2="340.4" stroke="#9a6cc8" stroke-width="1.3" stroke-dasharray="0.01,4.6" stroke-linecap="round"/>
<line x1="81.0" y1="340.4" x2="113.2" y2="340.4" stroke="#9a6cc8" stroke-width="1.35"/>
<line x1="114.7" y1="340.4" x2="142.0" y2="341.5" stroke="#9a6cc8" stroke-width="1.3" stroke-dasharray="0.01,4.6" stroke-linecap="round"/>
<line x1="143.0" y1="341.5" x2="175.3" y2="341.5" stroke="#9a6cc8" stroke-width="1.35"/>
<line x1="176.8" y1="341.5" x2="204.8" y2="347.1" stroke="#9a6cc8" stroke-width="1.3" stroke-dasharray="0.01,4.6" stroke-linecap="round"/>
<line x1="205.8" y1="347.1" x2="238.9" y2="347.1" stroke="#9a6cc8" stroke-width="1.35"/>
<line x1="240.4" y1="347.1" x2="266.5" y2="339.7" stroke="#9a6cc8" stroke-width="1.3" stroke-dasharray="0.01,4.6" stroke-linecap="round"/>
<line x1="19.0" y1="362.9" x2="50.2" y2="362.9" stroke="#4cb0c0" stroke-width="1.35"/>
<line x1="51.7" y1="362.9" x2="80.0" y2="358.2" stroke="#4cb0c0" stroke-width="1.3" stroke-dasharray="0.01,4.6" stroke-linecap="round"/>
<line x1="81.0" y1="358.2" x2="113.2" y2="358.2" stroke="#4cb0c0" stroke-width="1.35"/>
<line x1="114.7" y1="358.2" x2="142.0" y2="353.0" stroke="#4cb0c0" stroke-width="1.3" stroke-dasharray="0.01,4.6" stroke-linecap="round"/>
<line x1="143.0" y1="353.0" x2="175.3" y2="353.0" stroke="#4cb0c0" stroke-width="1.35"/>
<line x1="176.8" y1="353.0" x2="204.8" y2="353.0" stroke="#4cb0c0" stroke-width="1.3" stroke-dasharray="0.01,4.6" stroke-linecap="round"/>
<line x1="205.8" y1="353.0" x2="238.9" y2="353.0" stroke="#4cb0c0" stroke-width="1.35"/>
<line x1="240.4" y1="353.0" x2="266.5" y2="339.7" stroke="#4cb0c0" stroke-width="1.3" stroke-dasharray="0.01,4.6" stroke-linecap="round"/>
<line x1="267.5" y1="339.7" x2="300.5" y2="339.7" stroke="#4cb0c0" stroke-width="1.3"/>
<rect x="17.5" y="258.5" width="283.0" height="113.30000000000001" fill="none" stroke="#777" stroke-width="1.2"/>
<line x1="15.0" y1="274.90" x2="17.5" y2="274.90" stroke="#333" stroke-width="0.7"/>
<text x="14.00" y="277.20" font-size="6.6" fill="#111" text-anchor="end" >12</text>
<line x1="15.0" y1="296.50" x2="17.5" y2="296.50" stroke="#333" stroke-width="0.7"/>
<text x="14.00" y="298.80" font-size="6.6" fill="#111" text-anchor="end" >8</text>
<line x1="16.0" y1="285.70" x2="17.5" y2="285.70" stroke="#333" stroke-width="0.7"/>
<line x1="15.0" y1="318.10" x2="17.5" y2="318.10" stroke="#333" stroke-width="0.7"/>
<text x="14.00" y="320.40" font-size="6.6" fill="#111" text-anchor="end" >4</text>
<line x1="16.0" y1="307.30" x2="17.5" y2="307.30" stroke="#333" stroke-width="0.7"/>
<line x1="15.0" y1="339.70" x2="17.5" y2="339.70" stroke="#333" stroke-width="0.7"/>
<text x="14.00" y="342.00" font-size="6.6" fill="#111" text-anchor="end" >0</text>
<line x1="16.0" y1="328.90" x2="17.5" y2="328.90" stroke="#333" stroke-width="0.7"/>
<line x1="15.0" y1="361.30" x2="17.5" y2="361.30" stroke="#333" stroke-width="0.7"/>
<text x="14.00" y="363.60" font-size="6.6" fill="#111" text-anchor="end" >-4</text>
<line x1="16.0" y1="350.50" x2="17.5" y2="350.50" stroke="#333" stroke-width="0.7"/>
<text transform="translate(6.1,315.5) rotate(-90)" font-size="6.93" text-anchor="middle" fill="#222">Free energy (eV)</text>
<text x="159.00" y="378.70" font-size="7.0" fill="#222" text-anchor="middle" >Reaction coordinate</text>
<line x1="243.0" y1="289.4" x2="280.1" y2="289.4" stroke="#e0507a" stroke-width="1.2"/>
<path d="M283.1,289.4 l-4.5,-1.7 l0,3.4 z" fill="#e0507a"/>
<line x1="280.3" y1="360.6" x2="245.3" y2="360.6" stroke="#3fa8b4" stroke-width="1.2"/>
<path d="M242.3,360.6 l4.5,-1.7 l0,3.4 z" fill="#3fa8b4"/>
<text x="20.80" y="269.40" font-size="5.85" fill="#222" text-anchor="start" >*+2O<tspan baseline-shift="-25%" font-size="70%">2</tspan>+4(Li<tspan baseline-shift="45%" font-size="70%">+</tspan>+e<tspan baseline-shift="45%" font-size="70%">-</tspan>)</text>
<text x="20.80" y="278.30" font-size="6.0" fill="#222" text-anchor="start" >U = 0.00 V</text>
<text x="19.80" y="306.80" font-size="6.0" fill="#222" text-anchor="start" >U<tspan baseline-shift="-25%" font-size="70%">D</tspan> = 1.76 V</text>
<text x="19.80" y="336.20" font-size="6.0" fill="#222" text-anchor="start" >U<tspan baseline-shift="-25%" font-size="70%">eq</tspan> = 3.145 V</text>
<text x="19.80" y="361.10" font-size="6.0" fill="#222" text-anchor="start" >U<tspan baseline-shift="-25%" font-size="70%">C</tspan> = 4.249 V</text>
<text x="80.40" y="285.60" font-size="5.85" fill="#222" text-anchor="start" >*LiO<tspan baseline-shift="-25%" font-size="70%">2</tspan>+O<tspan baseline-shift="-25%" font-size="70%">2</tspan>+3(Li<tspan baseline-shift="45%" font-size="70%">+</tspan>+e<tspan baseline-shift="45%" font-size="70%">-</tspan>)</text>
<text x="142.00" y="303.00" font-size="5.85" fill="#222" text-anchor="start" >*Li<tspan baseline-shift="-25%" font-size="70%">2</tspan>O<tspan baseline-shift="-25%" font-size="70%">2</tspan>+O<tspan baseline-shift="-25%" font-size="70%">2</tspan>+2(Li<tspan baseline-shift="45%" font-size="70%">+</tspan>+e<tspan baseline-shift="45%" font-size="70%">-</tspan>)</text>
<text x="205.10" y="327.10" font-size="5.85" fill="#222" text-anchor="start" >*Li<tspan baseline-shift="-25%" font-size="70%">3</tspan>O<tspan baseline-shift="-25%" font-size="70%">4</tspan>+(Li<tspan baseline-shift="45%" font-size="70%">+</tspan>+e<tspan baseline-shift="45%" font-size="70%">-</tspan>)</text>
<text x="277.00" y="347.00" font-size="5.85" fill="#222" text-anchor="start" >*Li<tspan baseline-shift="-25%" font-size="70%">4</tspan>O<tspan baseline-shift="-25%" font-size="70%">4</tspan></text>
<text x="243.00" y="296.10" font-size="5.85" fill="#222" text-anchor="start" >η<tspan baseline-shift="-25%" font-size="70%">ORR</tspan>=1.385 eV</text>
<text x="241.90" y="367.30" font-size="5.85" fill="#222" text-anchor="start" >η<tspan baseline-shift="-25%" font-size="70%">OER</tspan>=1.104 eV</text>
<text x="242.10" y="266.50" font-size="5.8" fill="#222" text-anchor="start" >CS<tspan baseline-shift="-25%" font-size="70%">r</tspan>-Pt<tspan baseline-shift="-25%" font-size="70%">3</tspan>Co NPs@N-C</text>
<rect x="17.5" y="393.5" width="284.0" height="112.0" fill="url(#bgE)"/>
<text x="1.00" y="404.30" font-size="16" fill="#111" text-anchor="start" >f</text>
<line x1="19.0" y1="405.6" x2="50.2" y2="405.6" stroke="#e5688a" stroke-width="1.35"/>
<line x1="51.7" y1="405.6" x2="80.0" y2="425.0" stroke="#e5688a" stroke-width="1.3" stroke-dasharray="0.01,4.6" stroke-linecap="round"/>
<line x1="81.0" y1="425.0" x2="113.2" y2="425.0" stroke="#e5688a" stroke-width="1.35"/>
<line x1="114.7" y1="425.0" x2="142.0" y2="442.2" stroke="#e5688a" stroke-width="1.3" stroke-dasharray="0.01,4.6" stroke-linecap="round"/>
<line x1="143.0" y1="442.2" x2="175.3" y2="442.2" stroke="#e5688a" stroke-width="1.35"/>
<line x1="176.8" y1="442.2" x2="204.8" y2="466.2" stroke="#e5688a" stroke-width="1.3" stroke-dasharray="0.01,4.6" stroke-linecap="round"/>
<line x1="205.8" y1="466.2" x2="238.9" y2="466.2" stroke="#e5688a" stroke-width="1.35"/>
<line x1="240.4" y1="466.2" x2="266.5" y2="474.2" stroke="#e5688a" stroke-width="1.3" stroke-dasharray="0.01,4.6" stroke-linecap="round"/>
<line x1="19.0" y1="438.6" x2="50.2" y2="438.6" stroke="#5a9ad6" stroke-width="1.35"/>
<line x1="51.7" y1="438.6" x2="80.0" y2="449.7" stroke="#5a9ad6" stroke-width="1.3" stroke-dasharray="0.01,4.6" stroke-linecap="round"/>
<line x1="81.0" y1="449.7" x2="113.2" y2="449.7" stroke="#5a9ad6" stroke-width="1.35"/>
<line x1="114.7" y1="449.7" x2="142.0" y2="458.7" stroke="#5a9ad6" stroke-width="1.3" stroke-dasharray="0.01,4.6" stroke-linecap="round"/>
<line x1="143.0" y1="458.7" x2="175.3" y2="458.7" stroke="#5a9ad6" stroke-width="1.35"/>
<line x1="176.8" y1="458.7" x2="204.8" y2="473.9" stroke="#5a9ad6" stroke-width="1.3" stroke-dasharray="0.01,4.6" stroke-linecap="round"/>
<line x1="205.8" y1="473.9" x2="238.9" y2="473.9" stroke="#5a9ad6" stroke-width="1.35"/>
<line x1="240.4" y1="473.9" x2="266.5" y2="474.2" stroke="#5a9ad6" stroke-width="1.3" stroke-dasharray="0.01,4.6" stroke-linecap="round"/>
<line x1="19.0" y1="474.2" x2="50.2" y2="474.2" stroke="#9a6cc8" stroke-width="1.35"/>
<line x1="51.7" y1="474.2" x2="80.0" y2="476.2" stroke="#9a6cc8" stroke-width="1.3" stroke-dasharray="0.01,4.6" stroke-linecap="round"/>
<line x1="81.0" y1="476.2" x2="113.2" y2="476.2" stroke="#9a6cc8" stroke-width="1.35"/>
<line x1="114.7" y1="476.2" x2="142.0" y2="476.2" stroke="#9a6cc8" stroke-width="1.3" stroke-dasharray="0.01,4.6" stroke-linecap="round"/>
<line x1="143.0" y1="476.2" x2="175.3" y2="476.2" stroke="#9a6cc8" stroke-width="1.35"/>
<line x1="176.8" y1="476.2" x2="204.8" y2="482.9" stroke="#9a6cc8" stroke-width="1.3" stroke-dasharray="0.01,4.6" stroke-linecap="round"/>
<line x1="205.8" y1="482.9" x2="238.9" y2="482.9" stroke="#9a6cc8" stroke-width="1.35"/>
<line x1="240.4" y1="482.9" x2="266.5" y2="474.2" stroke="#9a6cc8" stroke-width="1.3" stroke-dasharray="0.01,4.6" stroke-linecap="round"/>
<line x1="19.0" y1="499.9" x2="50.2" y2="499.9" stroke="#4cb0c0" stroke-width="1.35"/>
<line x1="51.7" y1="499.9" x2="80.0" y2="495.8" stroke="#4cb0c0" stroke-width="1.3" stroke-dasharray="0.01,4.6" stroke-linecap="round"/>
<line x1="81.0" y1="495.8" x2="113.2" y2="495.8" stroke="#4cb0c0" stroke-width="1.35"/>
<line x1="114.7" y1="495.8" x2="142.0" y2="489.4" stroke="#4cb0c0" stroke-width="1.3" stroke-dasharray="0.01,4.6" stroke-linecap="round"/>
<line x1="143.0" y1="489.4" x2="175.3" y2="489.4" stroke="#4cb0c0" stroke-width="1.35"/>
<line x1="176.8" y1="489.4" x2="204.8" y2="489.4" stroke="#4cb0c0" stroke-width="1.3" stroke-dasharray="0.01,4.6" stroke-linecap="round"/>
<line x1="205.8" y1="489.4" x2="238.9" y2="489.4" stroke="#4cb0c0" stroke-width="1.35"/>
<line x1="240.4" y1="489.4" x2="266.5" y2="474.2" stroke="#4cb0c0" stroke-width="1.3" stroke-dasharray="0.01,4.6" stroke-linecap="round"/>
<line x1="267.5" y1="474.2" x2="301.5" y2="474.2" stroke="#4cb0c0" stroke-width="1.3"/>
<rect x="17.5" y="393.5" width="284.0" height="112.0" fill="none" stroke="#777" stroke-width="1.2"/>
<line x1="15.0" y1="410.00" x2="17.5" y2="410.00" stroke="#333" stroke-width="0.7"/>
<text x="14.00" y="412.30" font-size="6.6" fill="#111" text-anchor="end" >12</text>
<line x1="15.0" y1="431.40" x2="17.5" y2="431.40" stroke="#333" stroke-width="0.7"/>
<text x="14.00" y="433.70" font-size="6.6" fill="#111" text-anchor="end" >8</text>
<line x1="16.0" y1="420.70" x2="17.5" y2="420.70" stroke="#333" stroke-width="0.7"/>
<line x1="15.0" y1="452.80" x2="17.5" y2="452.80" stroke="#333" stroke-width="0.7"/>
<text x="14.00" y="455.10" font-size="6.6" fill="#111" text-anchor="end" >4</text>
<line x1="16.0" y1="442.10" x2="17.5" y2="442.10" stroke="#333" stroke-width="0.7"/>
<line x1="15.0" y1="474.20" x2="17.5" y2="474.20" stroke="#333" stroke-width="0.7"/>
<text x="14.00" y="476.50" font-size="6.6" fill="#111" text-anchor="end" >0</text>
<line x1="16.0" y1="463.50" x2="17.5" y2="463.50" stroke="#333" stroke-width="0.7"/>
<line x1="15.0" y1="495.60" x2="17.5" y2="495.60" stroke="#333" stroke-width="0.7"/>
<text x="14.00" y="497.90" font-size="6.6" fill="#111" text-anchor="end" >-4</text>
<line x1="16.0" y1="484.90" x2="17.5" y2="484.90" stroke="#333" stroke-width="0.7"/>
<text transform="translate(8.9,446.9) rotate(-90)" font-size="6.93" text-anchor="middle" fill="#222">Free energy (eV)</text>
<text x="162.90" y="512.40" font-size="7.0" fill="#222" text-anchor="middle" >Reaction coordinate</text>
<line x1="238.9" y1="428.3" x2="277.1" y2="428.3" stroke="#e0507a" stroke-width="1.2"/>
<path d="M280.1,428.3 l-4.5,-1.7 l0,3.4 z" fill="#e0507a"/>
<line x1="284.0" y1="494.5" x2="244.5" y2="494.5" stroke="#3fa8b4" stroke-width="1.2"/>
<path d="M241.5,494.5 l4.5,-1.7 l0,3.4 z" fill="#3fa8b4"/>
<text x="20.80" y="402.80" font-size="5.85" fill="#222" text-anchor="start" >*+2O<tspan baseline-shift="-25%" font-size="70%">2</tspan>+4(Li<tspan baseline-shift="45%" font-size="70%">+</tspan>+e<tspan baseline-shift="45%" font-size="70%">-</tspan>)</text>
<text x="20.80" y="411.80" font-size="6.0" fill="#222" text-anchor="start" >U = 0.00 V</text>
<text x="19.80" y="435.20" font-size="6.0" fill="#222" text-anchor="start" >U<tspan baseline-shift="-25%" font-size="70%">D</tspan> = 1.526 V</text>
<text x="19.80" y="470.00" font-size="6.0" fill="#222" text-anchor="start" >U<tspan baseline-shift="-25%" font-size="70%">eq</tspan> = 3.158 V</text>
<text x="19.80" y="496.30" font-size="6.0" fill="#222" text-anchor="start" >U<tspan baseline-shift="-25%" font-size="70%">C</tspan> = 4.35 V</text>
<text x="76.30" y="421.00" font-size="5.85" fill="#222" text-anchor="start" >*LiO<tspan baseline-shift="-25%" font-size="70%">2</tspan>+O<tspan baseline-shift="-25%" font-size="70%">2</tspan>+3(Li<tspan baseline-shift="45%" font-size="70%">+</tspan>+e<tspan baseline-shift="45%" font-size="70%">-</tspan>)</text>
<text x="142.00" y="438.50" font-size="5.85" fill="#222" text-anchor="start" >*Li<tspan baseline-shift="-25%" font-size="70%">2</tspan>O<tspan baseline-shift="-25%" font-size="70%">2</tspan>+O<tspan baseline-shift="-25%" font-size="70%">2</tspan>+2(Li<tspan baseline-shift="45%" font-size="70%">+</tspan>+e<tspan baseline-shift="45%" font-size="70%">-</tspan>)</text>
<text x="205.40" y="462.30" font-size="5.85" fill="#222" text-anchor="start" >*Li<tspan baseline-shift="-25%" font-size="70%">3</tspan>O<tspan baseline-shift="-25%" font-size="70%">4</tspan>+(Li<tspan baseline-shift="45%" font-size="70%">+</tspan>+e<tspan baseline-shift="45%" font-size="70%">-</tspan>)</text>
<text x="278.80" y="481.60" font-size="5.85" fill="#222" text-anchor="start" >*Li<tspan baseline-shift="-25%" font-size="70%">4</tspan>O<tspan baseline-shift="-25%" font-size="70%">4</tspan></text>
<text x="240.20" y="435.20" font-size="5.85" fill="#222" text-anchor="start" >η<tspan baseline-shift="-25%" font-size="70%">ORR</tspan>=1.632 eV</text>
<text x="242.20" y="501.00" font-size="5.85" fill="#222" text-anchor="start" >η<tspan baseline-shift="-25%" font-size="70%">OER</tspan>=1.192 eV</text>
<text x="242.10" y="399.40" font-size="5.8" fill="#222" text-anchor="start" >CS<tspan baseline-shift="-25%" font-size="70%">p</tspan>-Pt<tspan baseline-shift="-25%" font-size="70%">3</tspan>Co NPs@N-C</text>
<text x="311.00" y="266.50" font-size="16" fill="#111" text-anchor="start" >g</text>
<rect x="332.51" y="317.51" width="61.26" height="57.30" fill="#1e5288"/>
<circle cx="332.31" cy="316.52" r="4.70" fill="url(#gCo)"/>
<circle cx="342.19" cy="316.52" r="4.70" fill="url(#gPt)"/>
<circle cx="352.07" cy="316.52" r="4.70" fill="url(#gCo)"/>
<circle cx="361.95" cy="316.52" r="4.70" fill="url(#gPt)"/>
<circle cx="371.83" cy="316.52" r="4.70" fill="url(#gCo)"/>
<circle cx="381.71" cy="316.52" r="4.70" fill="url(#gPt)"/>
<circle cx="391.59" cy="316.52" r="4.70" fill="url(#gCo)"/>
<circle cx="329.35" cy="324.33" r="4.70" fill="url(#gPt)"/>
<circle cx="393.27" cy="324.33" r="4.70" fill="url(#gPt)"/>
<circle cx="329.35" cy="339.15" r="4.70" fill="url(#gPt)"/>
<circle cx="393.27" cy="339.15" r="4.70" fill="url(#gPt)"/>
<circle cx="329.35" cy="351.20" r="4.70" fill="url(#gPt)"/>
<circle cx="393.27" cy="351.20" r="4.70" fill="url(#gPt)"/>
<circle cx="329.35" cy="365.92" r="4.70" fill="url(#gPt)"/>
<circle cx="393.27" cy="365.92" r="4.70" fill="url(#gPt)"/>
<circle cx="333.50" cy="318.50" r="4.70" fill="url(#gCo)"/>
<circle cx="343.38" cy="318.50" r="4.70" fill="url(#gPt)"/>
<circle cx="353.26" cy="318.50" r="4.70" fill="url(#gCo)"/>
<circle cx="363.14" cy="318.50" r="4.70" fill="url(#gPt)"/>
<circle cx="373.02" cy="318.50" r="4.70" fill="url(#gCo)"/>
<circle cx="382.90" cy="318.50" r="4.70" fill="url(#gPt)"/>
<circle cx="392.78" cy="318.50" r="4.70" fill="url(#gCo)"/>
<circle cx="333.50" cy="333.32" r="4.70" fill="url(#gCo)"/>
<circle cx="343.38" cy="333.32" r="4.70" fill="url(#gPt)"/>
<circle cx="353.26" cy="333.32" r="4.70" fill="url(#gCo)"/>
<circle cx="363.14" cy="333.32" r="4.70" fill="url(#gPt)"/>
<circle cx="373.02" cy="333.32" r="4.70" fill="url(#gCo)"/>
<circle cx="382.90" cy="333.32" r="4.70" fill="url(#gPt)"/>
<circle cx="392.78" cy="333.32" r="4.70" fill="url(#gCo)"/>
<circle cx="333.50" cy="346.56" r="4.70" fill="url(#gCo)"/>
<circle cx="343.38" cy="346.56" r="4.70" fill="url(#gPt)"/>
<circle cx="353.26" cy="346.56" r="4.70" fill="url(#gCo)"/>
<circle cx="363.14" cy="346.56" r="4.70" fill="url(#gPt)"/>
<circle cx="373.02" cy="346.56" r="4.70" fill="url(#gCo)"/>
<circle cx="382.90" cy="346.56" r="4.70" fill="url(#gPt)"/>
<circle cx="392.78" cy="346.56" r="4.70" fill="url(#gCo)"/>
<circle cx="333.50" cy="359.60" r="4.70" fill="url(#gCo)"/>
<circle cx="343.38" cy="359.60" r="4.70" fill="url(#gPt)"/>
<circle cx="353.26" cy="359.60" r="4.70" fill="url(#gCo)"/>
<circle cx="363.14" cy="359.60" r="4.70" fill="url(#gPt)"/>
<circle cx="373.02" cy="359.60" r="4.70" fill="url(#gCo)"/>
<circle cx="382.90" cy="359.60" r="4.70" fill="url(#gPt)"/>
<circle cx="392.78" cy="359.60" r="4.70" fill="url(#gCo)"/>
<circle cx="333.50" cy="374.03" r="4.70" fill="url(#gCo)"/>
<circle cx="343.38" cy="374.03" r="4.70" fill="url(#gPt)"/>
<circle cx="353.26" cy="374.03" r="4.70" fill="url(#gCo)"/>
<circle cx="363.14" cy="374.03" r="4.70" fill="url(#gPt)"/>
<circle cx="373.02" cy="374.03" r="4.70" fill="url(#gCo)"/>
<circle cx="382.90" cy="374.03" r="4.70" fill="url(#gPt)"/>
<circle cx="392.78" cy="374.03" r="4.70" fill="url(#gCo)"/>
<circle cx="338.44" cy="325.51" r="4.70" fill="url(#gPt)"/>
<circle cx="348.32" cy="325.51" r="4.70" fill="url(#gPt)"/>
<circle cx="358.20" cy="325.51" r="4.70" fill="url(#gPt)"/>
<circle cx="368.08" cy="325.51" r="4.70" fill="url(#gPt)"/>
<circle cx="377.96" cy="325.51" r="4.70" fill="url(#gPt)"/>
<circle cx="387.84" cy="325.51" r="4.70" fill="url(#gPt)"/>
<circle cx="338.44" cy="340.33" r="4.70" fill="url(#gPt)"/>
<circle cx="348.32" cy="340.33" r="4.70" fill="url(#gPt)"/>
<circle cx="358.20" cy="340.33" r="4.70" fill="url(#gPt)"/>
<circle cx="368.08" cy="340.33" r="4.70" fill="url(#gPt)"/>
<circle cx="377.96" cy="340.33" r="4.70" fill="url(#gPt)"/>
<circle cx="387.84" cy="340.33" r="4.70" fill="url(#gPt)"/>
<circle cx="338.44" cy="352.39" r="4.70" fill="url(#gPt)"/>
<circle cx="348.32" cy="352.39" r="4.70" fill="url(#gPt)"/>
<circle cx="358.20" cy="352.39" r="4.70" fill="url(#gPt)"/>
<circle cx="368.08" cy="352.39" r="4.70" fill="url(#gPt)"/>
<circle cx="377.96" cy="352.39" r="4.70" fill="url(#gPt)"/>
<circle cx="387.84" cy="352.39" r="4.70" fill="url(#gPt)"/>
<circle cx="338.44" cy="367.11" r="4.70" fill="url(#gPt)"/>
<circle cx="348.32" cy="367.11" r="4.70" fill="url(#gPt)"/>
<circle cx="358.20" cy="367.11" r="4.70" fill="url(#gPt)"/>
<circle cx="368.08" cy="367.11" r="4.70" fill="url(#gPt)"/>
<circle cx="377.96" cy="367.11" r="4.70" fill="url(#gPt)"/>
<circle cx="387.84" cy="367.11" r="4.70" fill="url(#gPt)"/>
<rect x="411.31" y="263.51" width="61.26" height="57.30" fill="#1e5288"/>
<circle cx="411.11" cy="262.52" r="4.70" fill="url(#gCo)"/>
<circle cx="420.99" cy="262.52" r="4.70" fill="url(#gPt)"/>
<circle cx="430.87" cy="262.52" r="4.70" fill="url(#gCo)"/>
<circle cx="440.75" cy="262.52" r="4.70" fill="url(#gPt)"/>
<circle cx="450.63" cy="262.52" r="4.70" fill="url(#gCo)"/>
<circle cx="460.51" cy="262.52" r="4.70" fill="url(#gPt)"/>
<circle cx="470.39" cy="262.52" r="4.70" fill="url(#gCo)"/>
<circle cx="408.15" cy="270.33" r="4.70" fill="url(#gPt)"/>
<circle cx="472.07" cy="270.33" r="4.70" fill="url(#gPt)"/>
<circle cx="408.15" cy="285.15" r="4.70" fill="url(#gPt)"/>
<circle cx="472.07" cy="285.15" r="4.70" fill="url(#gPt)"/>
<circle cx="408.15" cy="297.20" r="4.70" fill="url(#gPt)"/>
<circle cx="472.07" cy="297.20" r="4.70" fill="url(#gPt)"/>
<circle cx="408.15" cy="311.92" r="4.70" fill="url(#gPt)"/>
<circle cx="472.07" cy="311.92" r="4.70" fill="url(#gPt)"/>
<circle cx="412.30" cy="264.50" r="4.70" fill="url(#gCo)"/>
<circle cx="422.18" cy="264.50" r="4.70" fill="url(#gPt)"/>
<circle cx="432.06" cy="264.50" r="4.70" fill="url(#gCo)"/>
<circle cx="441.94" cy="264.50" r="4.70" fill="url(#gPt)"/>
<circle cx="451.82" cy="264.50" r="4.70" fill="url(#gCo)"/>
<circle cx="461.70" cy="264.50" r="4.70" fill="url(#gPt)"/>
<circle cx="471.58" cy="264.50" r="4.70" fill="url(#gCo)"/>
<circle cx="412.30" cy="279.32" r="4.70" fill="url(#gCo)"/>
<circle cx="422.18" cy="279.32" r="4.70" fill="url(#gPt)"/>
<circle cx="432.06" cy="279.32" r="4.70" fill="url(#gCo)"/>
<circle cx="441.94" cy="279.32" r="4.70" fill="url(#gPt)"/>
<circle cx="451.82" cy="279.32" r="4.70" fill="url(#gCo)"/>
<circle cx="461.70" cy="279.32" r="4.70" fill="url(#gPt)"/>
<circle cx="471.58" cy="279.32" r="4.70" fill="url(#gCo)"/>
<circle cx="412.30" cy="292.56" r="4.70" fill="url(#gCo)"/>
<circle cx="422.18" cy="292.56" r="4.70" fill="url(#gPt)"/>
<circle cx="432.06" cy="292.56" r="4.70" fill="url(#gCo)"/>
<circle cx="441.94" cy="292.56" r="4.70" fill="url(#gPt)"/>
<circle cx="451.82" cy="292.56" r="4.70" fill="url(#gCo)"/>
<circle cx="461.70" cy="292.56" r="4.70" fill="url(#gPt)"/>
<circle cx="471.58" cy="292.56" r="4.70" fill="url(#gCo)"/>
<circle cx="412.30" cy="305.60" r="4.70" fill="url(#gCo)"/>
<circle cx="422.18" cy="305.60" r="4.70" fill="url(#gPt)"/>
<circle cx="432.06" cy="305.60" r="4.70" fill="url(#gCo)"/>
<circle cx="441.94" cy="305.60" r="4.70" fill="url(#gPt)"/>
<circle cx="451.82" cy="305.60" r="4.70" fill="url(#gCo)"/>
<circle cx="461.70" cy="305.60" r="4.70" fill="url(#gPt)"/>
<circle cx="471.58" cy="305.60" r="4.70" fill="url(#gCo)"/>
<circle cx="412.30" cy="320.03" r="4.70" fill="url(#gCo)"/>
<circle cx="422.18" cy="320.03" r="4.70" fill="url(#gPt)"/>
<circle cx="432.06" cy="320.03" r="4.70" fill="url(#gCo)"/>
<circle cx="441.94" cy="320.03" r="4.70" fill="url(#gPt)"/>
<circle cx="451.82" cy="320.03" r="4.70" fill="url(#gCo)"/>
<circle cx="461.70" cy="320.03" r="4.70" fill="url(#gPt)"/>
<circle cx="471.58" cy="320.03" r="4.70" fill="url(#gCo)"/>
<circle cx="417.24" cy="271.51" r="4.70" fill="url(#gPt)"/>
<circle cx="427.12" cy="271.51" r="4.70" fill="url(#gPt)"/>
<circle cx="437.00" cy="271.51" r="4.70" fill="url(#gPt)"/>
<circle cx="446.88" cy="271.51" r="4.70" fill="url(#gPt)"/>
<circle cx="456.76" cy="271.51" r="4.70" fill="url(#gPt)"/>
<circle cx="466.64" cy="271.51" r="4.70" fill="url(#gPt)"/>
<circle cx="417.24" cy="286.33" r="4.70" fill="url(#gPt)"/>
<circle cx="427.12" cy="286.33" r="4.70" fill="url(#gPt)"/>
<circle cx="437.00" cy="286.33" r="4.70" fill="url(#gPt)"/>
<circle cx="446.88" cy="286.33" r="4.70" fill="url(#gPt)"/>
<circle cx="456.76" cy="286.33" r="4.70" fill="url(#gPt)"/>
<circle cx="466.64" cy="286.33" r="4.70" fill="url(#gPt)"/>
<circle cx="417.24" cy="298.39" r="4.70" fill="url(#gPt)"/>
<circle cx="427.12" cy="298.39" r="4.70" fill="url(#gPt)"/>
<circle cx="437.00" cy="298.39" r="4.70" fill="url(#gPt)"/>
<circle cx="446.88" cy="298.39" r="4.70" fill="url(#gPt)"/>
<circle cx="456.76" cy="298.39" r="4.70" fill="url(#gPt)"/>
<circle cx="466.64" cy="298.39" r="4.70" fill="url(#gPt)"/>
<circle cx="417.24" cy="313.11" r="4.70" fill="url(#gPt)"/>
<circle cx="427.12" cy="313.11" r="4.70" fill="url(#gPt)"/>
<circle cx="437.00" cy="313.11" r="4.70" fill="url(#gPt)"/>
<circle cx="446.88" cy="313.11" r="4.70" fill="url(#gPt)"/>
<circle cx="456.76" cy="313.11" r="4.70" fill="url(#gPt)"/>
<circle cx="466.64" cy="313.11" r="4.70" fill="url(#gPt)"/>
<circle cx="439.13" cy="298.60" r="2.60" fill="url(#gO)"/>
<circle cx="444.07" cy="298.60" r="2.60" fill="url(#gO)"/>
<rect x="499.91" y="305.61" width="61.26" height="57.30" fill="#1e5288"/>
<circle cx="499.71" cy="304.62" r="4.70" fill="url(#gCo)"/>
<circle cx="509.59" cy="304.62" r="4.70" fill="url(#gPt)"/>
<circle cx="519.47" cy="304.62" r="4.70" fill="url(#gCo)"/>
<circle cx="529.35" cy="304.62" r="4.70" fill="url(#gPt)"/>
<circle cx="539.23" cy="304.62" r="4.70" fill="url(#gCo)"/>
<circle cx="549.11" cy="304.62" r="4.70" fill="url(#gPt)"/>
<circle cx="558.99" cy="304.62" r="4.70" fill="url(#gCo)"/>
<circle cx="496.75" cy="312.43" r="4.70" fill="url(#gPt)"/>
<circle cx="560.67" cy="312.43" r="4.70" fill="url(#gPt)"/>
<circle cx="496.75" cy="327.25" r="4.70" fill="url(#gPt)"/>
<circle cx="560.67" cy="327.25" r="4.70" fill="url(#gPt)"/>
<circle cx="496.75" cy="339.30" r="4.70" fill="url(#gPt)"/>
<circle cx="560.67" cy="339.30" r="4.70" fill="url(#gPt)"/>
<circle cx="496.75" cy="354.02" r="4.70" fill="url(#gPt)"/>
<circle cx="560.67" cy="354.02" r="4.70" fill="url(#gPt)"/>
<circle cx="500.90" cy="306.60" r="4.70" fill="url(#gCo)"/>
<circle cx="510.78" cy="306.60" r="4.70" fill="url(#gPt)"/>
<circle cx="520.66" cy="306.60" r="4.70" fill="url(#gCo)"/>
<circle cx="530.54" cy="306.60" r="4.70" fill="url(#gPt)"/>
<circle cx="540.42" cy="306.60" r="4.70" fill="url(#gCo)"/>
<circle cx="550.30" cy="306.60" r="4.70" fill="url(#gPt)"/>
<circle cx="560.18" cy="306.60" r="4.70" fill="url(#gCo)"/>
<circle cx="500.90" cy="321.42" r="4.70" fill="url(#gCo)"/>
<circle cx="510.78" cy="321.42" r="4.70" fill="url(#gPt)"/>
<circle cx="520.66" cy="321.42" r="4.70" fill="url(#gCo)"/>
<circle cx="530.54" cy="321.42" r="4.70" fill="url(#gPt)"/>
<circle cx="540.42" cy="321.42" r="4.70" fill="url(#gCo)"/>
<circle cx="550.30" cy="321.42" r="4.70" fill="url(#gPt)"/>
<circle cx="560.18" cy="321.42" r="4.70" fill="url(#gCo)"/>
<circle cx="500.90" cy="334.66" r="4.70" fill="url(#gCo)"/>
<circle cx="510.78" cy="334.66" r="4.70" fill="url(#gPt)"/>
<circle cx="520.66" cy="334.66" r="4.70" fill="url(#gCo)"/>
<circle cx="530.54" cy="334.66" r="4.70" fill="url(#gPt)"/>
<circle cx="540.42" cy="334.66" r="4.70" fill="url(#gCo)"/>
<circle cx="550.30" cy="334.66" r="4.70" fill="url(#gPt)"/>
<circle cx="560.18" cy="334.66" r="4.70" fill="url(#gCo)"/>
<circle cx="500.90" cy="347.70" r="4.70" fill="url(#gCo)"/>
<circle cx="510.78" cy="347.70" r="4.70" fill="url(#gPt)"/>
<circle cx="520.66" cy="347.70" r="4.70" fill="url(#gCo)"/>
<circle cx="530.54" cy="347.70" r="4.70" fill="url(#gPt)"/>
<circle cx="540.42" cy="347.70" r="4.70" fill="url(#gCo)"/>
<circle cx="550.30" cy="347.70" r="4.70" fill="url(#gPt)"/>
<circle cx="560.18" cy="347.70" r="4.70" fill="url(#gCo)"/>
<circle cx="500.90" cy="362.13" r="4.70" fill="url(#gCo)"/>
<circle cx="510.78" cy="362.13" r="4.70" fill="url(#gPt)"/>
<circle cx="520.66" cy="362.13" r="4.70" fill="url(#gCo)"/>
<circle cx="530.54" cy="362.13" r="4.70" fill="url(#gPt)"/>
<circle cx="540.42" cy="362.13" r="4.70" fill="url(#gCo)"/>
<circle cx="550.30" cy="362.13" r="4.70" fill="url(#gPt)"/>
<circle cx="560.18" cy="362.13" r="4.70" fill="url(#gCo)"/>
<circle cx="505.84" cy="313.61" r="4.70" fill="url(#gPt)"/>
<circle cx="515.72" cy="313.61" r="4.70" fill="url(#gPt)"/>
<circle cx="525.60" cy="313.61" r="4.70" fill="url(#gPt)"/>
<circle cx="535.48" cy="313.61" r="4.70" fill="url(#gPt)"/>
<circle cx="545.36" cy="313.61" r="4.70" fill="url(#gPt)"/>
<circle cx="555.24" cy="313.61" r="4.70" fill="url(#gPt)"/>
<circle cx="505.84" cy="328.43" r="4.70" fill="url(#gPt)"/>
<circle cx="515.72" cy="328.43" r="4.70" fill="url(#gPt)"/>
<circle cx="525.60" cy="328.43" r="4.70" fill="url(#gPt)"/>
<circle cx="535.48" cy="328.43" r="4.70" fill="url(#gPt)"/>
<circle cx="545.36" cy="328.43" r="4.70" fill="url(#gPt)"/>
<circle cx="555.24" cy="328.43" r="4.70" fill="url(#gPt)"/>
<circle cx="505.84" cy="340.49" r="4.70" fill="url(#gPt)"/>
<circle cx="515.72" cy="340.49" r="4.70" fill="url(#gPt)"/>
<circle cx="525.60" cy="340.49" r="4.70" fill="url(#gPt)"/>
<circle cx="535.48" cy="340.49" r="4.70" fill="url(#gPt)"/>
<circle cx="545.36" cy="340.49" r="4.70" fill="url(#gPt)"/>
<circle cx="555.24" cy="340.49" r="4.70" fill="url(#gPt)"/>
<circle cx="505.84" cy="355.21" r="4.70" fill="url(#gPt)"/>
<circle cx="515.72" cy="355.21" r="4.70" fill="url(#gPt)"/>
<circle cx="525.60" cy="355.21" r="4.70" fill="url(#gPt)"/>
<circle cx="535.48" cy="355.21" r="4.70" fill="url(#gPt)"/>
<circle cx="545.36" cy="355.21" r="4.70" fill="url(#gPt)"/>
<circle cx="555.24" cy="355.21" r="4.70" fill="url(#gPt)"/>
<circle cx="530.60" cy="333.80" r="5.40" fill="url(#gLi)"/>
<circle cx="527.40" cy="340.80" r="2.60" fill="url(#gO)"/>
<circle cx="533.60" cy="340.80" r="2.60" fill="url(#gO)"/>
<rect x="546.61" y="382.31" width="61.26" height="57.30" fill="#1e5288"/>
<circle cx="546.41" cy="381.32" r="4.70" fill="url(#gCo)"/>
<circle cx="556.29" cy="381.32" r="4.70" fill="url(#gPt)"/>
<circle cx="566.17" cy="381.32" r="4.70" fill="url(#gCo)"/>
<circle cx="576.05" cy="381.32" r="4.70" fill="url(#gPt)"/>
<circle cx="585.93" cy="381.32" r="4.70" fill="url(#gCo)"/>
<circle cx="595.81" cy="381.32" r="4.70" fill="url(#gPt)"/>
<circle cx="605.69" cy="381.32" r="4.70" fill="url(#gCo)"/>
<circle cx="543.45" cy="389.13" r="4.70" fill="url(#gPt)"/>
<circle cx="607.37" cy="389.13" r="4.70" fill="url(#gPt)"/>
<circle cx="543.45" cy="403.95" r="4.70" fill="url(#gPt)"/>
<circle cx="607.37" cy="403.95" r="4.70" fill="url(#gPt)"/>
<circle cx="543.45" cy="416.00" r="4.70" fill="url(#gPt)"/>
<circle cx="607.37" cy="416.00" r="4.70" fill="url(#gPt)"/>
<circle cx="543.45" cy="430.72" r="4.70" fill="url(#gPt)"/>
<circle cx="607.37" cy="430.72" r="4.70" fill="url(#gPt)"/>
<circle cx="547.60" cy="383.30" r="4.70" fill="url(#gCo)"/>
<circle cx="557.48" cy="383.30" r="4.70" fill="url(#gPt)"/>
<circle cx="567.36" cy="383.30" r="4.70" fill="url(#gCo)"/>
<circle cx="577.24" cy="383.30" r="4.70" fill="url(#gPt)"/>
<circle cx="587.12" cy="383.30" r="4.70" fill="url(#gCo)"/>
<circle cx="597.00" cy="383.30" r="4.70" fill="url(#gPt)"/>
<circle cx="606.88" cy="383.30" r="4.70" fill="url(#gCo)"/>
<circle cx="547.60" cy="398.12" r="4.70" fill="url(#gCo)"/>
<circle cx="557.48" cy="398.12" r="4.70" fill="url(#gPt)"/>
<circle cx="567.36" cy="398.12" r="4.70" fill="url(#gCo)"/>
<circle cx="577.24" cy="398.12" r="4.70" fill="url(#gPt)"/>
<circle cx="587.12" cy="398.12" r="4.70" fill="url(#gCo)"/>
<circle cx="597.00" cy="398.12" r="4.70" fill="url(#gPt)"/>
<circle cx="606.88" cy="398.12" r="4.70" fill="url(#gCo)"/>
<circle cx="547.60" cy="411.36" r="4.70" fill="url(#gCo)"/>
<circle cx="557.48" cy="411.36" r="4.70" fill="url(#gPt)"/>
<circle cx="567.36" cy="411.36" r="4.70" fill="url(#gCo)"/>
<circle cx="577.24" cy="411.36" r="4.70" fill="url(#gPt)"/>
<circle cx="587.12" cy="411.36" r="4.70" fill="url(#gCo)"/>
<circle cx="597.00" cy="411.36" r="4.70" fill="url(#gPt)"/>
<circle cx="606.88" cy="411.36" r="4.70" fill="url(#gCo)"/>
<circle cx="547.60" cy="424.40" r="4.70" fill="url(#gCo)"/>
<circle cx="557.48" cy="424.40" r="4.70" fill="url(#gPt)"/>
<circle cx="567.36" cy="424.40" r="4.70" fill="url(#gCo)"/>
<circle cx="577.24" cy="424.40" r="4.70" fill="url(#gPt)"/>
<circle cx="587.12" cy="424.40" r="4.70" fill="url(#gCo)"/>
<circle cx="597.00" cy="424.40" r="4.70" fill="url(#gPt)"/>
<circle cx="606.88" cy="424.40" r="4.70" fill="url(#gCo)"/>
<circle cx="547.60" cy="438.83" r="4.70" fill="url(#gCo)"/>
<circle cx="557.48" cy="438.83" r="4.70" fill="url(#gPt)"/>
<circle cx="567.36" cy="438.83" r="4.70" fill="url(#gCo)"/>
<circle cx="577.24" cy="438.83" r="4.70" fill="url(#gPt)"/>
<circle cx="587.12" cy="438.83" r="4.70" fill="url(#gCo)"/>
<circle cx="597.00" cy="438.83" r="4.70" fill="url(#gPt)"/>
<circle cx="606.88" cy="438.83" r="4.70" fill="url(#gCo)"/>
<circle cx="552.54" cy="390.31" r="4.70" fill="url(#gPt)"/>
<circle cx="562.42" cy="390.31" r="4.70" fill="url(#gPt)"/>
<circle cx="572.30" cy="390.31" r="4.70" fill="url(#gPt)"/>
<circle cx="582.18" cy="390.31" r="4.70" fill="url(#gPt)"/>
<circle cx="592.06" cy="390.31" r="4.70" fill="url(#gPt)"/>
<circle cx="601.94" cy="390.31" r="4.70" fill="url(#gPt)"/>
<circle cx="552.54" cy="405.13" r="4.70" fill="url(#gPt)"/>
<circle cx="562.42" cy="405.13" r="4.70" fill="url(#gPt)"/>
<circle cx="572.30" cy="405.13" r="4.70" fill="url(#gPt)"/>
<circle cx="582.18" cy="405.13" r="4.70" fill="url(#gPt)"/>
<circle cx="592.06" cy="405.13" r="4.70" fill="url(#gPt)"/>
<circle cx="601.94" cy="405.13" r="4.70" fill="url(#gPt)"/>
<circle cx="552.54" cy="417.19" r="4.70" fill="url(#gPt)"/>
<circle cx="562.42" cy="417.19" r="4.70" fill="url(#gPt)"/>
<circle cx="572.30" cy="417.19" r="4.70" fill="url(#gPt)"/>
<circle cx="582.18" cy="417.19" r="4.70" fill="url(#gPt)"/>
<circle cx="592.06" cy="417.19" r="4.70" fill="url(#gPt)"/>
<circle cx="601.94" cy="417.19" r="4.70" fill="url(#gPt)"/>
<circle cx="552.54" cy="431.91" r="4.70" fill="url(#gPt)"/>
<circle cx="562.42" cy="431.91" r="4.70" fill="url(#gPt)"/>
<circle cx="572.30" cy="431.91" r="4.70" fill="url(#gPt)"/>
<circle cx="582.18" cy="431.91" r="4.70" fill="url(#gPt)"/>
<circle cx="592.06" cy="431.91" r="4.70" fill="url(#gPt)"/>
<circle cx="601.94" cy="431.91" r="4.70" fill="url(#gPt)"/>
<circle cx="571.90" cy="417.70" r="2.40" fill="url(#gO)"/>
<circle cx="583.00" cy="417.70" r="2.40" fill="url(#gO)"/>
<circle cx="577.20" cy="412.90" r="5.00" fill="url(#gLi)"/>
<circle cx="577.20" cy="422.90" r="5.00" fill="url(#gLi)"/>
<rect x="457.21" y="444.71" width="61.26" height="57.30" fill="#1e5288"/>
<circle cx="457.01" cy="443.72" r="4.70" fill="url(#gCo)"/>
<circle cx="466.89" cy="443.72" r="4.70" fill="url(#gPt)"/>
<circle cx="476.77" cy="443.72" r="4.70" fill="url(#gCo)"/>
<circle cx="486.65" cy="443.72" r="4.70" fill="url(#gPt)"/>
<circle cx="496.53" cy="443.72" r="4.70" fill="url(#gCo)"/>
<circle cx="506.41" cy="443.72" r="4.70" fill="url(#gPt)"/>
<circle cx="516.29" cy="443.72" r="4.70" fill="url(#gCo)"/>
<circle cx="454.05" cy="451.53" r="4.70" fill="url(#gPt)"/>
<circle cx="517.97" cy="451.53" r="4.70" fill="url(#gPt)"/>
<circle cx="454.05" cy="466.35" r="4.70" fill="url(#gPt)"/>
<circle cx="517.97" cy="466.35" r="4.70" fill="url(#gPt)"/>
<circle cx="454.05" cy="478.40" r="4.70" fill="url(#gPt)"/>
<circle cx="517.97" cy="478.40" r="4.70" fill="url(#gPt)"/>
<circle cx="454.05" cy="493.12" r="4.70" fill="url(#gPt)"/>
<circle cx="517.97" cy="493.12" r="4.70" fill="url(#gPt)"/>
<circle cx="458.20" cy="445.70" r="4.70" fill="url(#gCo)"/>
<circle cx="468.08" cy="445.70" r="4.70" fill="url(#gPt)"/>
<circle cx="477.96" cy="445.70" r="4.70" fill="url(#gCo)"/>
<circle cx="487.84" cy="445.70" r="4.70" fill="url(#gPt)"/>
<circle cx="497.72" cy="445.70" r="4.70" fill="url(#gCo)"/>
<circle cx="507.60" cy="445.70" r="4.70" fill="url(#gPt)"/>
<circle cx="517.48" cy="445.70" r="4.70" fill="url(#gCo)"/>
<circle cx="458.20" cy="460.52" r="4.70" fill="url(#gCo)"/>
<circle cx="468.08" cy="460.52" r="4.70" fill="url(#gPt)"/>
<circle cx="477.96" cy="460.52" r="4.70" fill="url(#gCo)"/>
<circle cx="487.84" cy="460.52" r="4.70" fill="url(#gPt)"/>
<circle cx="497.72" cy="460.52" r="4.70" fill="url(#gCo)"/>
<circle cx="507.60" cy="460.52" r="4.70" fill="url(#gPt)"/>
<circle cx="517.48" cy="460.52" r="4.70" fill="url(#gCo)"/>
<circle cx="458.20" cy="473.76" r="4.70" fill="url(#gCo)"/>
<circle cx="468.08" cy="473.76" r="4.70" fill="url(#gPt)"/>
<circle cx="477.96" cy="473.76" r="4.70" fill="url(#gCo)"/>
<circle cx="487.84" cy="473.76" r="4.70" fill="url(#gPt)"/>
<circle cx="497.72" cy="473.76" r="4.70" fill="url(#gCo)"/>
<circle cx="507.60" cy="473.76" r="4.70" fill="url(#gPt)"/>
<circle cx="517.48" cy="473.76" r="4.70" fill="url(#gCo)"/>
<circle cx="458.20" cy="486.80" r="4.70" fill="url(#gCo)"/>
<circle cx="468.08" cy="486.80" r="4.70" fill="url(#gPt)"/>
<circle cx="477.96" cy="486.80" r="4.70" fill="url(#gCo)"/>
<circle cx="487.84" cy="486.80" r="4.70" fill="url(#gPt)"/>
<circle cx="497.72" cy="486.80" r="4.70" fill="url(#gCo)"/>
<circle cx="507.60" cy="486.80" r="4.70" fill="url(#gPt)"/>
<circle cx="517.48" cy="486.80" r="4.70" fill="url(#gCo)"/>
<circle cx="458.20" cy="501.23" r="4.70" fill="url(#gCo)"/>
<circle cx="468.08" cy="501.23" r="4.70" fill="url(#gPt)"/>
<circle cx="477.96" cy="501.23" r="4.70" fill="url(#gCo)"/>
<circle cx="487.84" cy="501.23" r="4.70" fill="url(#gPt)"/>
<circle cx="497.72" cy="501.23" r="4.70" fill="url(#gCo)"/>
<circle cx="507.60" cy="501.23" r="4.70" fill="url(#gPt)"/>
<circle cx="517.48" cy="501.23" r="4.70" fill="url(#gCo)"/>
<circle cx="463.14" cy="452.71" r="4.70" fill="url(#gPt)"/>
<circle cx="473.02" cy="452.71" r="4.70" fill="url(#gPt)"/>
<circle cx="482.90" cy="452.71" r="4.70" fill="url(#gPt)"/>
<circle cx="492.78" cy="452.71" r="4.70" fill="url(#gPt)"/>
<circle cx="502.66" cy="452.71" r="4.70" fill="url(#gPt)"/>
<circle cx="512.54" cy="452.71" r="4.70" fill="url(#gPt)"/>
<circle cx="463.14" cy="467.53" r="4.70" fill="url(#gPt)"/>
<circle cx="473.02" cy="467.53" r="4.70" fill="url(#gPt)"/>
<circle cx="482.90" cy="467.53" r="4.70" fill="url(#gPt)"/>
<circle cx="492.78" cy="467.53" r="4.70" fill="url(#gPt)"/>
<circle cx="502.66" cy="467.53" r="4.70" fill="url(#gPt)"/>
<circle cx="512.54" cy="467.53" r="4.70" fill="url(#gPt)"/>
<circle cx="463.14" cy="479.59" r="4.70" fill="url(#gPt)"/>
<circle cx="473.02" cy="479.59" r="4.70" fill="url(#gPt)"/>
<circle cx="482.90" cy="479.59" r="4.70" fill="url(#gPt)"/>
<circle cx="492.78" cy="479.59" r="4.70" fill="url(#gPt)"/>
<circle cx="502.66" cy="479.59" r="4.70" fill="url(#gPt)"/>
<circle cx="512.54" cy="479.59" r="4.70" fill="url(#gPt)"/>
<circle cx="463.14" cy="494.31" r="4.70" fill="url(#gPt)"/>
<circle cx="473.02" cy="494.31" r="4.70" fill="url(#gPt)"/>
<circle cx="482.90" cy="494.31" r="4.70" fill="url(#gPt)"/>
<circle cx="492.78" cy="494.31" r="4.70" fill="url(#gPt)"/>
<circle cx="502.66" cy="494.31" r="4.70" fill="url(#gPt)"/>
<circle cx="512.54" cy="494.31" r="4.70" fill="url(#gPt)"/>
<circle cx="484.00" cy="492.90" r="2.60" fill="url(#gO)"/>
<circle cx="489.50" cy="493.20" r="2.60" fill="url(#gO)"/>
<circle cx="478.20" cy="480.00" r="2.60" fill="url(#gO)"/>
<circle cx="491.10" cy="480.00" r="2.60" fill="url(#gO)"/>
<circle cx="484.60" cy="476.70" r="5.20" fill="url(#gLi)"/>
<circle cx="479.20" cy="487.10" r="5.30" fill="url(#gLi)"/>
<circle cx="493.00" cy="486.40" r="5.30" fill="url(#gLi)"/>
<rect x="352.61" y="400.41" width="61.26" height="57.30" fill="#1e5288"/>
<circle cx="352.41" cy="399.42" r="4.70" fill="url(#gCo)"/>
<circle cx="362.29" cy="399.42" r="4.70" fill="url(#gPt)"/>
<circle cx="372.17" cy="399.42" r="4.70" fill="url(#gCo)"/>
<circle cx="382.05" cy="399.42" r="4.70" fill="url(#gPt)"/>
<circle cx="391.93" cy="399.42" r="4.70" fill="url(#gCo)"/>
<circle cx="401.81" cy="399.42" r="4.70" fill="url(#gPt)"/>
<circle cx="411.69" cy="399.42" r="4.70" fill="url(#gCo)"/>
<circle cx="349.45" cy="407.23" r="4.70" fill="url(#gPt)"/>
<circle cx="413.37" cy="407.23" r="4.70" fill="url(#gPt)"/>
<circle cx="349.45" cy="422.05" r="4.70" fill="url(#gPt)"/>
<circle cx="413.37" cy="422.05" r="4.70" fill="url(#gPt)"/>
<circle cx="349.45" cy="434.10" r="4.70" fill="url(#gPt)"/>
<circle cx="413.37" cy="434.10" r="4.70" fill="url(#gPt)"/>
<circle cx="349.45" cy="448.82" r="4.70" fill="url(#gPt)"/>
<circle cx="413.37" cy="448.82" r="4.70" fill="url(#gPt)"/>
<circle cx="353.60" cy="401.40" r="4.70" fill="url(#gCo)"/>
<circle cx="363.48" cy="401.40" r="4.70" fill="url(#gPt)"/>
<circle cx="373.36" cy="401.40" r="4.70" fill="url(#gCo)"/>
<circle cx="383.24" cy="401.40" r="4.70" fill="url(#gPt)"/>
<circle cx="393.12" cy="401.40" r="4.70" fill="url(#gCo)"/>
<circle cx="403.00" cy="401.40" r="4.70" fill="url(#gPt)"/>
<circle cx="412.88" cy="401.40" r="4.70" fill="url(#gCo)"/>
<circle cx="353.60" cy="416.22" r="4.70" fill="url(#gCo)"/>
<circle cx="363.48" cy="416.22" r="4.70" fill="url(#gPt)"/>
<circle cx="373.36" cy="416.22" r="4.70" fill="url(#gCo)"/>
<circle cx="383.24" cy="416.22" r="4.70" fill="url(#gPt)"/>
<circle cx="393.12" cy="416.22" r="4.70" fill="url(#gCo)"/>
<circle cx="403.00" cy="416.22" r="4.70" fill="url(#gPt)"/>
<circle cx="412.88" cy="416.22" r="4.70" fill="url(#gCo)"/>
<circle cx="353.60" cy="429.46" r="4.70" fill="url(#gCo)"/>
<circle cx="363.48" cy="429.46" r="4.70" fill="url(#gPt)"/>
<circle cx="373.36" cy="429.46" r="4.70" fill="url(#gCo)"/>
<circle cx="383.24" cy="429.46" r="4.70" fill="url(#gPt)"/>
<circle cx="393.12" cy="429.46" r="4.70" fill="url(#gCo)"/>
<circle cx="403.00" cy="429.46" r="4.70" fill="url(#gPt)"/>
<circle cx="412.88" cy="429.46" r="4.70" fill="url(#gCo)"/>
<circle cx="353.60" cy="442.50" r="4.70" fill="url(#gCo)"/>
<circle cx="363.48" cy="442.50" r="4.70" fill="url(#gPt)"/>
<circle cx="373.36" cy="442.50" r="4.70" fill="url(#gCo)"/>
<circle cx="383.24" cy="442.50" r="4.70" fill="url(#gPt)"/>
<circle cx="393.12" cy="442.50" r="4.70" fill="url(#gCo)"/>
<circle cx="403.00" cy="442.50" r="4.70" fill="url(#gPt)"/>
<circle cx="412.88" cy="442.50" r="4.70" fill="url(#gCo)"/>
<circle cx="353.60" cy="456.93" r="4.70" fill="url(#gCo)"/>
<circle cx="363.48" cy="456.93" r="4.70" fill="url(#gPt)"/>
<circle cx="373.36" cy="456.93" r="4.70" fill="url(#gCo)"/>
<circle cx="383.24" cy="456.93" r="4.70" fill="url(#gPt)"/>
<circle cx="393.12" cy="456.93" r="4.70" fill="url(#gCo)"/>
<circle cx="403.00" cy="456.93" r="4.70" fill="url(#gPt)"/>
<circle cx="412.88" cy="456.93" r="4.70" fill="url(#gCo)"/>
<circle cx="358.54" cy="408.41" r="4.70" fill="url(#gPt)"/>
<circle cx="368.42" cy="408.41" r="4.70" fill="url(#gPt)"/>
<circle cx="378.30" cy="408.41" r="4.70" fill="url(#gPt)"/>
<circle cx="388.18" cy="408.41" r="4.70" fill="url(#gPt)"/>
<circle cx="398.06" cy="408.41" r="4.70" fill="url(#gPt)"/>
<circle cx="407.94" cy="408.41" r="4.70" fill="url(#gPt)"/>
<circle cx="358.54" cy="423.23" r="4.70" fill="url(#gPt)"/>
<circle cx="368.42" cy="423.23" r="4.70" fill="url(#gPt)"/>
<circle cx="378.30" cy="423.23" r="4.70" fill="url(#gPt)"/>
<circle cx="388.18" cy="423.23" r="4.70" fill="url(#gPt)"/>
<circle cx="398.06" cy="423.23" r="4.70" fill="url(#gPt)"/>
<circle cx="407.94" cy="423.23" r="4.70" fill="url(#gPt)"/>
<circle cx="358.54" cy="435.29" r="4.70" fill="url(#gPt)"/>
<circle cx="368.42" cy="435.29" r="4.70" fill="url(#gPt)"/>
<circle cx="378.30" cy="435.29" r="4.70" fill="url(#gPt)"/>
<circle cx="388.18" cy="435.29" r="4.70" fill="url(#gPt)"/>
<circle cx="398.06" cy="435.29" r="4.70" fill="url(#gPt)"/>
<circle cx="407.94" cy="435.29" r="4.70" fill="url(#gPt)"/>
<circle cx="358.54" cy="450.01" r="4.70" fill="url(#gPt)"/>
<circle cx="368.42" cy="450.01" r="4.70" fill="url(#gPt)"/>
<circle cx="378.30" cy="450.01" r="4.70" fill="url(#gPt)"/>
<circle cx="388.18" cy="450.01" r="4.70" fill="url(#gPt)"/>
<circle cx="398.06" cy="450.01" r="4.70" fill="url(#gPt)"/>
<circle cx="407.94" cy="450.01" r="4.70" fill="url(#gPt)"/>
<circle cx="385.90" cy="437.00" r="2.40" fill="url(#gO)"/>
<circle cx="373.80" cy="434.20" r="2.40" fill="url(#gO)"/>
<circle cx="384.00" cy="421.70" r="5.60" fill="url(#gLi)"/>
<circle cx="380.80" cy="431.30" r="5.50" fill="url(#gLi)"/>
<circle cx="390.00" cy="431.60" r="5.50" fill="url(#gLi)"/>
<circle cx="385.10" cy="427.80" r="2.30" fill="url(#gO)"/>
<circle cx="383.30" cy="442.20" r="5.60" fill="url(#gLi)"/>
<linearGradient id="ga1" gradientUnits="userSpaceOnUse" x1="367" y1="308" x2="400" y2="281"><stop offset="0" stop-color="#a9c6d3"/><stop offset="1" stop-color="#b5607d"/></linearGradient>
<path d="M367.3,308.5 C368.5,292 380,283 397,281.3" stroke="url(#ga1)" stroke-width="2.4" fill="none" stroke-linecap="butt"/>
<path d="M401.50,281.30 L396.00,284.90 L398.48,281.30 L396.00,277.70 z" fill="#b5607d"/>
<linearGradient id="ga2" gradientUnits="userSpaceOnUse" x1="354" y1="286" x2="372" y2="293.6"><stop offset="0" stop-color="#a8b8d8"/><stop offset="1" stop-color="#c4b6e0"/></linearGradient>
<path d="M353.8,286.2 C358,292 363,294 371.5,293.6" stroke="url(#ga2)" stroke-width="2.0" fill="none" stroke-linecap="butt"/>
<path d="M373.50,293.60 L367.71,296.71 L370.49,293.34 L368.33,289.53 z" fill="#c4b6e0"/>
<circle cx="351.5" cy="280.1" r="2.0" fill="#fff" stroke="#e0201c" stroke-width="1.2"/>
<circle cx="349.70000000000005" cy="284.5" r="2.0" fill="#fff" stroke="#e0201c" stroke-width="1.2"/>
<linearGradient id="ga3" gradientUnits="userSpaceOnUse" x1="485" y1="280" x2="515" y2="299"><stop offset="0" stop-color="#8dbcc4"/><stop offset="1" stop-color="#b5607d"/></linearGradient>
<path d="M485.5,280.2 C500,279.5 510,286 514.8,295" stroke="url(#ga3)" stroke-width="2.4" fill="none" stroke-linecap="butt"/>
<path d="M515.60,299.80 L510.34,295.86 L514.57,296.96 L517.10,293.40 z" fill="#b5607d"/>
<linearGradient id="ga4" gradientUnits="userSpaceOnUse" x1="501" y1="264" x2="499" y2="279"><stop offset="0" stop-color="#a8b8e0"/><stop offset="1" stop-color="#c4b6e0"/></linearGradient>
<path d="M501.2,264.5 C498.5,270 498.5,274 499.3,277" stroke="url(#ga4)" stroke-width="2.0" fill="none" stroke-linecap="butt"/>
<path d="M499.60,279.20 L495.53,274.03 L499.34,276.19 L502.71,273.41 z" fill="#c4b6e0"/>
<circle cx="494.50" cy="261.60" r="2.30" fill="url(#gE)"/>
<circle cx="506.7" cy="263.5" r="2.5" fill="#fff" stroke="#9b3fe0" stroke-width="1.4"/>
<linearGradient id="ga5" gradientUnits="userSpaceOnUse" x1="567" y1="335" x2="587" y2="374"><stop offset="0" stop-color="#9ec0cc"/><stop offset="1" stop-color="#b5607d"/></linearGradient>
<path d="M567.5,335.2 C577,338 584,350 586.3,370" stroke="url(#ga5)" stroke-width="2.4" fill="none" stroke-linecap="butt"/>
<path d="M586.80,374.60 L582.83,369.36 L586.59,371.58 L590.01,368.86 z" fill="#b5607d"/>
<linearGradient id="ga6" gradientUnits="userSpaceOnUse" x1="597" y1="328" x2="587" y2="342"><stop offset="0" stop-color="#a8b8e0"/><stop offset="1" stop-color="#c4b6e0"/></linearGradient>
<path d="M596.8,328.2 C591,331 587.5,336 586.8,341" stroke="url(#ga6)" stroke-width="2.0" fill="none" stroke-linecap="butt"/>
<path d="M586.50,343.20 L583.39,337.41 L586.76,340.19 L590.57,338.03 z" fill="#c4b6e0"/>
<circle cx="590.40" cy="321.20" r="2.30" fill="url(#gE)"/>
<circle cx="597.5" cy="326.5" r="2.5" fill="#fff" stroke="#9b3fe0" stroke-width="1.4"/>
<linearGradient id="ga7" gradientUnits="userSpaceOnUse" x1="562" y1="448" x2="527" y2="474"><stop offset="0" stop-color="#a9c6d3"/><stop offset="1" stop-color="#b5607d"/></linearGradient>
<path d="M562.4,447.8 C560,462 545,472 531,473.2" stroke="url(#ga7)" stroke-width="2.4" fill="none" stroke-linecap="butt"/>
<path d="M527.40,473.40 L532.77,469.61 L530.42,473.29 L533.02,476.81 z" fill="#b5607d"/>
<linearGradient id="ga8" gradientUnits="userSpaceOnUse" x1="573" y1="471" x2="557" y2="461"><stop offset="0" stop-color="#a8b8e0"/><stop offset="1" stop-color="#c4b6e0"/></linearGradient>
<path d="M573.2,471.5 C571,466 566,462.5 558,461.5" stroke="url(#ga8)" stroke-width="2.0" fill="none" stroke-linecap="butt"/>
<path d="M556.30,461.40 L562.09,458.29 L559.31,461.66 L561.47,465.47 z" fill="#c4b6e0"/>
<circle cx="574.90" cy="475.80" r="2.30" fill="url(#gE)"/>
<circle cx="568.9" cy="483.3" r="2.5" fill="#fff" stroke="#9b3fe0" stroke-width="1.4"/>
<circle cx="586.1" cy="470.2" r="1.9" fill="#fff" stroke="#e0201c" stroke-width="1.2"/>
<circle cx="584.3000000000001" cy="474.59999999999997" r="1.9" fill="#fff" stroke="#e0201c" stroke-width="1.2"/>
<linearGradient id="ga9" gradientUnits="userSpaceOnUse" x1="441" y1="475" x2="411" y2="465"><stop offset="0" stop-color="#8dbcc4"/><stop offset="1" stop-color="#b5607d"/></linearGradient>
<path d="M441.4,475.6 C430,476 418,472 413,468" stroke="url(#ga9)" stroke-width="2.4" fill="none" stroke-linecap="butt"/>
<path d="M410.80,465.20 L417.37,465.41 L413.28,466.94 L413.24,471.30 z" fill="#b5607d"/>
<linearGradient id="ga10" gradientUnits="userSpaceOnUse" x1="430" y1="488" x2="426" y2="478"><stop offset="0" stop-color="#a8b8e0"/><stop offset="1" stop-color="#c4b6e0"/></linearGradient>
<path d="M430.5,488.4 C430,484 429,481 426,478.5" stroke="url(#ga10)" stroke-width="2.0" fill="none" stroke-linecap="butt"/>
<path d="M425.00,477.50 L431.53,478.28 L427.32,479.44 L426.90,483.79 z" fill="#c4b6e0"/>
<circle cx="425.10" cy="498.60" r="2.20" fill="url(#gE)"/>
<circle cx="434.3" cy="499.4" r="2.5" fill="#fff" stroke="#9b3fe0" stroke-width="1.4"/>
<circle cx="343.1" cy="488.9" r="2.5" fill="#fff" stroke="#9b3fe0" stroke-width="1.4"/>
<circle cx="358.0" cy="488.9" r="2.6" fill="#fff" stroke="#e0201c" stroke-width="1.4"/>
<circle cx="364.4" cy="488.9" r="2.6" fill="#fff" stroke="#e0201c" stroke-width="1.4"/>
<circle cx="378.30" cy="488.90" r="2.00" fill="url(#gE)"/>
<text x="339.70" y="500.90" font-size="8.4" fill="#222" text-anchor="start" >Li</text>
<text x="358.00" y="500.90" font-size="8.4" fill="#222" text-anchor="start" >O<tspan baseline-shift="-25%" font-size="70%">2</tspan></text>
<text x="376.00" y="500.90" font-size="8.4" fill="#222" text-anchor="start" >e<tspan baseline-shift="45%" font-size="70%">-</tspan></text>
<rect x="18.5" y="531.5" width="131.0" height="106.0" fill="url(#bgH)"/>
<text x="0.50" y="538.80" font-size="16" fill="#111" text-anchor="start" >h</text>
<linearGradient id="tu11" gradientUnits="userSpaceOnUse" x1="0" y1="555.48" x2="0" y2="584.1"><stop offset="0" stop-color="#9670c6"/><stop offset="1" stop-color="#dcd0ec"/></linearGradient>
<linearGradient id="pu11" gradientUnits="userSpaceOnUse" x1="0" y1="565.02" x2="0" y2="584.1"><stop offset="0" stop-color="#cf4670"/><stop offset="0.5" stop-color="#e58aa6"/><stop offset="1" stop-color="#fff3f7"/></linearGradient>
<linearGradient id="pd11" gradientUnits="userSpaceOnUse" x1="0" y1="584.1" x2="0" y2="603.1800000000001"><stop offset="0" stop-color="#fbe9f0"/><stop offset="1" stop-color="#ffffff"/></linearGradient>
<path d="M18.38,582.83 C18.97,582.71 20.62,582.57 21.66,582.19 C22.69,581.81 23.08,581.51 24.11,580.71 C25.14,579.91 26.36,578.96 27.39,577.74 C28.42,576.52 28.96,575.15 29.85,573.92 C30.73,572.70 31.37,572.10 32.30,570.96 C33.23,569.81 34.19,568.25 35.01,567.56 C35.82,566.88 36.11,567.75 36.81,567.14 C37.50,566.53 38.12,564.32 38.86,564.17 C39.59,564.02 40.12,566.29 40.90,566.29 C41.68,566.29 42.41,564.06 43.20,564.17 C43.98,564.29 44.26,567.04 45.24,566.93 C46.23,566.81 47.33,564.41 48.68,563.54 C50.04,562.66 51.55,561.82 52.78,562.05 C54.00,562.28 54.45,564.66 55.48,564.81 C56.51,564.96 57.38,563.78 58.51,562.90 C59.65,562.02 60.71,560.08 61.79,559.93 C62.86,559.78 63.41,562.17 64.49,562.05 C65.57,561.94 66.69,559.41 67.77,559.30 C68.84,559.18 69.23,562.03 70.47,561.42 C71.71,560.81 73.16,556.40 74.65,555.90 C76.13,555.41 77.44,558.20 78.74,558.66 C80.04,559.12 81.00,558.22 81.85,558.45 C82.71,558.68 82.59,559.89 83.49,559.93 C84.39,559.97 85.89,557.40 86.85,558.66 C87.81,559.92 88.06,563.46 88.81,566.93 C89.57,570.40 90.29,575.40 91.03,577.95 C91.76,580.51 92.28,580.45 92.91,581.13 C93.54,581.82 93.81,582.38 94.55,581.77 C95.28,581.16 96.12,577.97 97.00,577.74 C97.89,577.51 98.58,580.53 99.46,580.50 C100.35,580.46 101.03,577.57 101.92,577.53 C102.80,577.49 103.49,580.25 104.38,580.28 C105.26,580.32 105.87,577.70 106.83,577.74 C107.79,577.78 108.67,580.53 109.70,580.50 C110.73,580.46 111.53,577.64 112.56,577.53 C113.60,577.41 114.40,579.71 115.43,579.86 C116.46,580.01 117.34,578.34 118.30,578.38 C119.26,578.41 119.87,580.15 120.75,580.07 C121.64,580.00 122.33,577.91 123.21,577.95 C124.10,577.99 124.78,580.36 125.67,580.28 C126.55,580.21 127.17,577.80 128.13,577.53 C129.08,577.26 129.96,579.41 130.99,578.80 C132.02,578.19 132.90,574.25 133.86,574.14 C134.82,574.02 135.43,576.68 136.32,578.16 C137.20,579.65 137.89,581.37 138.77,582.40 C139.66,583.43 139.31,583.58 141.23,583.89 C143.15,584.19 147.95,584.06 149.42,584.10 L149.42,584.1 L18.38,584.1 Z" fill="url(#tu11)"/>
<path d="M18.38,585.37 C18.67,585.52 18.99,585.76 20.02,586.22 C21.05,586.68 22.34,587.15 24.11,587.92 C25.88,588.68 28.22,589.32 29.85,590.46 C31.47,591.60 31.94,592.79 33.12,594.28 C34.30,595.76 35.37,597.09 36.40,598.73 C37.43,600.37 38.04,603.01 38.86,603.39 C39.67,603.77 40.09,600.70 40.90,600.85 C41.71,601.00 42.47,604.24 43.36,604.24 C44.24,604.24 44.86,600.73 45.82,600.85 C46.77,600.96 47.43,604.49 48.68,604.88 C49.94,605.26 51.30,602.59 52.78,602.97 C54.25,603.35 55.40,606.77 56.87,607.00 C58.35,607.22 59.05,603.36 60.97,604.24 C62.88,605.12 65.75,610.99 67.52,611.87 C69.29,612.75 69.51,609.00 70.80,609.12 C72.08,609.23 73.22,612.66 74.65,612.51 C76.08,612.36 77.27,609.26 78.74,608.27 C80.21,607.28 81.38,607.22 82.84,607.00 C84.29,606.77 85.62,608.26 86.85,607.00 C88.07,605.74 88.76,602.75 89.63,600.00 C90.50,597.25 91.03,593.95 91.68,591.73 C92.33,589.52 92.72,588.62 93.24,587.70 C93.75,586.79 93.87,586.15 94.55,586.64 C95.23,587.14 96.12,590.27 97.00,590.46 C97.89,590.65 98.58,587.59 99.46,587.70 C100.35,587.82 101.03,591.06 101.92,591.10 C102.80,591.13 103.49,587.99 104.38,587.92 C105.26,587.84 105.87,590.71 106.83,590.67 C107.79,590.63 108.67,587.67 109.70,587.70 C110.73,587.74 111.53,590.81 112.56,590.88 C113.60,590.96 114.40,588.20 115.43,588.13 C116.46,588.05 117.34,590.42 118.30,590.46 C119.26,590.50 119.87,588.26 120.75,588.34 C121.64,588.42 122.33,590.92 123.21,590.88 C124.10,590.85 124.78,588.09 125.67,588.13 C126.55,588.17 127.17,590.75 128.13,591.10 C129.08,591.44 129.96,589.69 130.99,590.04 C132.02,590.38 132.90,593.00 133.86,593.00 C134.82,593.00 135.43,591.33 136.32,590.04 C137.20,588.74 137.89,586.83 138.77,585.80 C139.66,584.77 139.31,584.62 141.23,584.31 C143.15,584.01 147.95,584.14 149.42,584.10 L149.42,584.1 L18.38,584.1 Z" fill="#fdfbfe"/>
<path d="M18.38,583.46 C18.67,583.39 18.84,583.46 20.02,583.04 C21.20,582.62 23.16,581.93 24.93,581.13 C26.70,580.33 28.37,579.58 29.85,578.59 C31.32,577.60 31.94,576.84 33.12,575.62 C34.30,574.40 35.37,572.99 36.40,571.80 C37.43,570.62 38.04,569.05 38.86,569.05 C39.67,569.05 40.12,571.80 40.90,571.80 C41.68,571.80 42.41,569.05 43.20,569.05 C43.98,569.05 44.26,571.80 45.24,571.80 C46.23,571.80 47.33,569.43 48.68,569.05 C50.04,568.67 51.30,569.19 52.78,569.68 C54.25,570.18 55.18,572.07 56.87,571.80 C58.57,571.54 60.50,568.47 62.20,568.20 C63.89,567.93 64.96,570.17 66.29,570.32 C67.62,570.47 68.06,569.96 69.57,569.05 C71.07,568.13 72.99,565.50 74.65,565.23 C76.30,564.96 77.27,566.27 78.74,567.56 C80.21,568.86 81.38,571.33 82.84,572.44 C84.29,573.55 85.62,573.10 86.85,573.71 C88.07,574.32 88.69,574.57 89.63,575.83 C90.58,577.09 91.10,579.33 92.09,580.71 C93.08,582.08 94.83,582.97 95.12,583.46 C95.42,583.96 93.39,583.65 93.73,583.46 C94.07,583.27 95.82,582.40 97.00,582.40 C98.18,582.40 99.10,583.43 100.28,583.46 C101.46,583.50 102.38,582.62 103.56,582.62 C104.74,582.62 105.65,583.43 106.83,583.46 C108.01,583.50 108.93,582.83 110.11,582.83 C111.29,582.83 112.20,583.50 113.38,583.46 C114.56,583.43 115.48,582.62 116.66,582.62 C117.84,582.62 118.76,583.43 119.94,583.46 C121.12,583.50 122.03,582.83 123.21,582.83 C124.39,582.83 125.31,583.46 126.49,583.46 C127.67,583.46 128.58,582.83 129.76,582.83 C130.94,582.83 131.86,583.43 133.04,583.46 C134.22,583.50 135.14,582.96 136.32,583.04 C137.50,583.12 137.23,583.70 139.59,583.89 C141.95,584.08 147.65,584.06 149.42,584.10 L149.42,584.1 L18.38,584.1 Z" fill="url(#pu11)"/>
<path d="M18.38,584.74 C18.67,584.81 18.84,584.93 20.02,585.16 C21.20,585.39 23.16,585.70 24.93,586.01 C26.70,586.31 28.08,586.05 29.85,586.86 C31.62,587.66 33.58,589.20 34.76,590.46 C35.94,591.72 35.66,592.36 36.40,593.85 C37.14,595.34 38.04,598.12 38.86,598.73 C39.67,599.34 40.09,597.24 40.90,597.24 C41.71,597.24 42.25,598.65 43.36,598.73 C44.47,598.80 45.64,597.67 47.05,597.67 C48.45,597.67 49.52,598.88 51.14,598.73 C52.76,598.58 54.28,597.01 56.05,596.82 C57.82,596.63 59.35,597.67 60.97,597.67 C62.59,597.67 63.44,596.40 65.06,596.82 C66.68,597.24 68.25,598.89 69.98,600.00 C71.70,601.11 73.07,603.20 74.65,602.97 C76.22,602.74 77.27,600.22 78.74,598.73 C80.21,597.24 81.38,595.69 82.84,594.70 C84.29,593.71 85.62,594.25 86.85,593.22 C88.07,592.19 88.69,590.46 89.63,588.98 C90.58,587.49 91.10,585.75 92.09,584.95 C93.08,584.15 94.83,584.56 95.12,584.52 C95.42,584.49 93.39,584.51 93.73,584.74 C94.07,584.96 95.82,585.80 97.00,585.80 C98.18,585.80 99.10,584.77 100.28,584.74 C101.46,584.70 102.38,585.58 103.56,585.58 C104.74,585.58 105.65,584.77 106.83,584.74 C108.01,584.70 108.93,585.37 110.11,585.37 C111.29,585.37 112.20,584.70 113.38,584.74 C114.56,584.77 115.48,585.58 116.66,585.58 C117.84,585.58 118.76,584.77 119.94,584.74 C121.12,584.70 122.03,585.37 123.21,585.37 C124.39,585.37 125.31,584.74 126.49,584.74 C127.67,584.74 128.58,585.37 129.76,585.37 C130.94,585.37 131.86,584.77 133.04,584.74 C134.22,584.70 135.14,585.24 136.32,585.16 C137.50,585.08 137.23,584.50 139.59,584.31 C141.95,584.12 147.65,584.14 149.42,584.10 L149.42,584.1 L18.38,584.1 Z" fill="url(#pd11)"/>
<path d="M18.38,582.83 C18.97,582.71 20.62,582.57 21.66,582.19 C22.69,581.81 23.08,581.51 24.11,580.71 C25.14,579.91 26.36,578.96 27.39,577.74 C28.42,576.52 28.96,575.15 29.85,573.92 C30.73,572.70 31.37,572.10 32.30,570.96 C33.23,569.81 34.19,568.25 35.01,567.56 C35.82,566.88 36.11,567.75 36.81,567.14 C37.50,566.53 38.12,564.32 38.86,564.17 C39.59,564.02 40.12,566.29 40.90,566.29 C41.68,566.29 42.41,564.06 43.20,564.17 C43.98,564.29 44.26,567.04 45.24,566.93 C46.23,566.81 47.33,564.41 48.68,563.54 C50.04,562.66 51.55,561.82 52.78,562.05 C54.00,562.28 54.45,564.66 55.48,564.81 C56.51,564.96 57.38,563.78 58.51,562.90 C59.65,562.02 60.71,560.08 61.79,559.93 C62.86,559.78 63.41,562.17 64.49,562.05 C65.57,561.94 66.69,559.41 67.77,559.30 C68.84,559.18 69.23,562.03 70.47,561.42 C71.71,560.81 73.16,556.40 74.65,555.90 C76.13,555.41 77.44,558.20 78.74,558.66 C80.04,559.12 81.00,558.22 81.85,558.45 C82.71,558.68 82.59,559.89 83.49,559.93 C84.39,559.97 85.89,557.40 86.85,558.66 C87.81,559.92 88.06,563.46 88.81,566.93 C89.57,570.40 90.29,575.40 91.03,577.95 C91.76,580.51 92.28,580.45 92.91,581.13 C93.54,581.82 93.81,582.38 94.55,581.77 C95.28,581.16 96.12,577.97 97.00,577.74 C97.89,577.51 98.58,580.53 99.46,580.50 C100.35,580.46 101.03,577.57 101.92,577.53 C102.80,577.49 103.49,580.25 104.38,580.28 C105.26,580.32 105.87,577.70 106.83,577.74 C107.79,577.78 108.67,580.53 109.70,580.50 C110.73,580.46 111.53,577.64 112.56,577.53 C113.60,577.41 114.40,579.71 115.43,579.86 C116.46,580.01 117.34,578.34 118.30,578.38 C119.26,578.41 119.87,580.15 120.75,580.07 C121.64,580.00 122.33,577.91 123.21,577.95 C124.10,577.99 124.78,580.36 125.67,580.28 C126.55,580.21 127.17,577.80 128.13,577.53 C129.08,577.26 129.96,579.41 130.99,578.80 C132.02,578.19 132.90,574.25 133.86,574.14 C134.82,574.02 135.43,576.68 136.32,578.16 C137.20,579.65 137.89,581.37 138.77,582.40 C139.66,583.43 139.31,583.58 141.23,583.89 C143.15,584.19 147.95,584.06 149.42,584.10" fill="none" stroke="#8b5cc0" stroke-width="1.1"/>
<path d="M18.38,585.37 C18.67,585.52 18.99,585.76 20.02,586.22 C21.05,586.68 22.34,587.15 24.11,587.92 C25.88,588.68 28.22,589.32 29.85,590.46 C31.47,591.60 31.94,592.79 33.12,594.28 C34.30,595.76 35.37,597.09 36.40,598.73 C37.43,600.37 38.04,603.01 38.86,603.39 C39.67,603.77 40.09,600.70 40.90,600.85 C41.71,601.00 42.47,604.24 43.36,604.24 C44.24,604.24 44.86,600.73 45.82,600.85 C46.77,600.96 47.43,604.49 48.68,604.88 C49.94,605.26 51.30,602.59 52.78,602.97 C54.25,603.35 55.40,606.77 56.87,607.00 C58.35,607.22 59.05,603.36 60.97,604.24 C62.88,605.12 65.75,610.99 67.52,611.87 C69.29,612.75 69.51,609.00 70.80,609.12 C72.08,609.23 73.22,612.66 74.65,612.51 C76.08,612.36 77.27,609.26 78.74,608.27 C80.21,607.28 81.38,607.22 82.84,607.00 C84.29,606.77 85.62,608.26 86.85,607.00 C88.07,605.74 88.76,602.75 89.63,600.00 C90.50,597.25 91.03,593.95 91.68,591.73 C92.33,589.52 92.72,588.62 93.24,587.70 C93.75,586.79 93.87,586.15 94.55,586.64 C95.23,587.14 96.12,590.27 97.00,590.46 C97.89,590.65 98.58,587.59 99.46,587.70 C100.35,587.82 101.03,591.06 101.92,591.10 C102.80,591.13 103.49,587.99 104.38,587.92 C105.26,587.84 105.87,590.71 106.83,590.67 C107.79,590.63 108.67,587.67 109.70,587.70 C110.73,587.74 111.53,590.81 112.56,590.88 C113.60,590.96 114.40,588.20 115.43,588.13 C116.46,588.05 117.34,590.42 118.30,590.46 C119.26,590.50 119.87,588.26 120.75,588.34 C121.64,588.42 122.33,590.92 123.21,590.88 C124.10,590.85 124.78,588.09 125.67,588.13 C126.55,588.17 127.17,590.75 128.13,591.10 C129.08,591.44 129.96,589.69 130.99,590.04 C132.02,590.38 132.90,593.00 133.86,593.00 C134.82,593.00 135.43,591.33 136.32,590.04 C137.20,588.74 137.89,586.83 138.77,585.80 C139.66,584.77 139.31,584.62 141.23,584.31 C143.15,584.01 147.95,584.14 149.42,584.10" fill="none" stroke="#8b5cc0" stroke-width="1.1"/>
<path d="M18.38,583.46 C18.67,583.39 18.84,583.46 20.02,583.04 C21.20,582.62 23.16,581.93 24.93,581.13 C26.70,580.33 28.37,579.58 29.85,578.59 C31.32,577.60 31.94,576.84 33.12,575.62 C34.30,574.40 35.37,572.99 36.40,571.80 C37.43,570.62 38.04,569.05 38.86,569.05 C39.67,569.05 40.12,571.80 40.90,571.80 C41.68,571.80 42.41,569.05 43.20,569.05 C43.98,569.05 44.26,571.80 45.24,571.80 C46.23,571.80 47.33,569.43 48.68,569.05 C50.04,568.67 51.30,569.19 52.78,569.68 C54.25,570.18 55.18,572.07 56.87,571.80 C58.57,571.54 60.50,568.47 62.20,568.20 C63.89,567.93 64.96,570.17 66.29,570.32 C67.62,570.47 68.06,569.96 69.57,569.05 C71.07,568.13 72.99,565.50 74.65,565.23 C76.30,564.96 77.27,566.27 78.74,567.56 C80.21,568.86 81.38,571.33 82.84,572.44 C84.29,573.55 85.62,573.10 86.85,573.71 C88.07,574.32 88.69,574.57 89.63,575.83 C90.58,577.09 91.10,579.33 92.09,580.71 C93.08,582.08 94.83,582.97 95.12,583.46 C95.42,583.96 93.39,583.65 93.73,583.46 C94.07,583.27 95.82,582.40 97.00,582.40 C98.18,582.40 99.10,583.43 100.28,583.46 C101.46,583.50 102.38,582.62 103.56,582.62 C104.74,582.62 105.65,583.43 106.83,583.46 C108.01,583.50 108.93,582.83 110.11,582.83 C111.29,582.83 112.20,583.50 113.38,583.46 C114.56,583.43 115.48,582.62 116.66,582.62 C117.84,582.62 118.76,583.43 119.94,583.46 C121.12,583.50 122.03,582.83 123.21,582.83 C124.39,582.83 125.31,583.46 126.49,583.46 C127.67,583.46 128.58,582.83 129.76,582.83 C130.94,582.83 131.86,583.43 133.04,583.46 C134.22,583.50 135.14,582.96 136.32,583.04 C137.50,583.12 137.23,583.70 139.59,583.89 C141.95,584.08 147.65,584.06 149.42,584.10" fill="none" stroke="#e0486e" stroke-width="1.1"/>
<path d="M18.38,584.74 C18.67,584.81 18.84,584.93 20.02,585.16 C21.20,585.39 23.16,585.70 24.93,586.01 C26.70,586.31 28.08,586.05 29.85,586.86 C31.62,587.66 33.58,589.20 34.76,590.46 C35.94,591.72 35.66,592.36 36.40,593.85 C37.14,595.34 38.04,598.12 38.86,598.73 C39.67,599.34 40.09,597.24 40.90,597.24 C41.71,597.24 42.25,598.65 43.36,598.73 C44.47,598.80 45.64,597.67 47.05,597.67 C48.45,597.67 49.52,598.88 51.14,598.73 C52.76,598.58 54.28,597.01 56.05,596.82 C57.82,596.63 59.35,597.67 60.97,597.67 C62.59,597.67 63.44,596.40 65.06,596.82 C66.68,597.24 68.25,598.89 69.98,600.00 C71.70,601.11 73.07,603.20 74.65,602.97 C76.22,602.74 77.27,600.22 78.74,598.73 C80.21,597.24 81.38,595.69 82.84,594.70 C84.29,593.71 85.62,594.25 86.85,593.22 C88.07,592.19 88.69,590.46 89.63,588.98 C90.58,587.49 91.10,585.75 92.09,584.95 C93.08,584.15 94.83,584.56 95.12,584.52 C95.42,584.49 93.39,584.51 93.73,584.74 C94.07,584.96 95.82,585.80 97.00,585.80 C98.18,585.80 99.10,584.77 100.28,584.74 C101.46,584.70 102.38,585.58 103.56,585.58 C104.74,585.58 105.65,584.77 106.83,584.74 C108.01,584.70 108.93,585.37 110.11,585.37 C111.29,585.37 112.20,584.70 113.38,584.74 C114.56,584.77 115.48,585.58 116.66,585.58 C117.84,585.58 118.76,584.77 119.94,584.74 C121.12,584.70 122.03,585.37 123.21,585.37 C124.39,585.37 125.31,584.74 126.49,584.74 C127.67,584.74 128.58,585.37 129.76,585.37 C130.94,585.37 131.86,584.77 133.04,584.74 C134.22,584.70 135.14,585.24 136.32,585.16 C137.50,585.08 137.23,584.50 139.59,584.31 C141.95,584.12 147.65,584.14 149.42,584.10" fill="none" stroke="#e0486e" stroke-width="1.1"/>
<line x1="83.9" y1="531.5" x2="83.9" y2="637.5" stroke="#444" stroke-width="1" stroke-dasharray="3,2"/>
<rect x="18.5" y="531.5" width="131.0" height="106.0" fill="none" stroke="#555" stroke-width="1"/>
<line x1="16.0" y1="541.70" x2="18.5" y2="541.70" stroke="#333" stroke-width="0.7"/>
<text x="14.90" y="543.90" font-size="6.2" fill="#222" text-anchor="end" >200</text>
<line x1="17.0" y1="552.30" x2="18.5" y2="552.30" stroke="#333" stroke-width="0.7"/>
<line x1="16.0" y1="562.90" x2="18.5" y2="562.90" stroke="#333" stroke-width="0.7"/>
<text x="14.90" y="565.10" font-size="6.2" fill="#222" text-anchor="end" >100</text>
<line x1="17.0" y1="573.50" x2="18.5" y2="573.50" stroke="#333" stroke-width="0.7"/>
<line x1="16.0" y1="584.10" x2="18.5" y2="584.10" stroke="#333" stroke-width="0.7"/>
<text x="14.90" y="586.30" font-size="6.2" fill="#222" text-anchor="end" >0</text>
<line x1="17.0" y1="594.70" x2="18.5" y2="594.70" stroke="#333" stroke-width="0.7"/>
<line x1="16.0" y1="605.30" x2="18.5" y2="605.30" stroke="#333" stroke-width="0.7"/>
<text x="14.90" y="607.50" font-size="6.2" fill="#222" text-anchor="end" >-100</text>
<line x1="17.0" y1="615.90" x2="18.5" y2="615.90" stroke="#333" stroke-width="0.7"/>
<line x1="16.0" y1="626.50" x2="18.5" y2="626.50" stroke="#333" stroke-width="0.7"/>
<text x="14.90" y="628.70" font-size="6.2" fill="#222" text-anchor="end" >-200</text>
<line x1="18.38" y1="637.5" x2="18.38" y2="640.0" stroke="#333" stroke-width="0.7"/>
<line x1="26.57" y1="637.5" x2="26.57" y2="639.0" stroke="#333" stroke-width="0.7"/>
<text x="18.38" y="645.30" font-size="6.0" fill="#222" text-anchor="middle" >-8</text>
<line x1="34.76" y1="637.5" x2="34.76" y2="640.0" stroke="#333" stroke-width="0.7"/>
<line x1="42.95" y1="637.5" x2="42.95" y2="639.0" stroke="#333" stroke-width="0.7"/>
<text x="34.76" y="645.30" font-size="6.0" fill="#222" text-anchor="middle" >-6</text>
<line x1="51.14" y1="637.5" x2="51.14" y2="640.0" stroke="#333" stroke-width="0.7"/>
<line x1="59.33" y1="637.5" x2="59.33" y2="639.0" stroke="#333" stroke-width="0.7"/>
<text x="51.14" y="645.30" font-size="6.0" fill="#222" text-anchor="middle" >-4</text>
<line x1="67.52" y1="637.5" x2="67.52" y2="640.0" stroke="#333" stroke-width="0.7"/>
<line x1="75.71" y1="637.5" x2="75.71" y2="639.0" stroke="#333" stroke-width="0.7"/>
<text x="67.52" y="645.30" font-size="6.0" fill="#222" text-anchor="middle" >-2</text>
<line x1="83.90" y1="637.5" x2="83.90" y2="640.0" stroke="#333" stroke-width="0.7"/>
<line x1="92.09" y1="637.5" x2="92.09" y2="639.0" stroke="#333" stroke-width="0.7"/>
<text x="83.90" y="645.30" font-size="6.0" fill="#222" text-anchor="middle" >0</text>
<line x1="100.28" y1="637.5" x2="100.28" y2="640.0" stroke="#333" stroke-width="0.7"/>
<line x1="108.47" y1="637.5" x2="108.47" y2="639.0" stroke="#333" stroke-width="0.7"/>
<text x="100.28" y="645.30" font-size="6.0" fill="#222" text-anchor="middle" >2</text>
<line x1="116.66" y1="637.5" x2="116.66" y2="640.0" stroke="#333" stroke-width="0.7"/>
<line x1="124.85" y1="637.5" x2="124.85" y2="639.0" stroke="#333" stroke-width="0.7"/>
<text x="116.66" y="645.30" font-size="6.0" fill="#222" text-anchor="middle" >4</text>
<line x1="133.04" y1="637.5" x2="133.04" y2="640.0" stroke="#333" stroke-width="0.7"/>
<line x1="141.23" y1="637.5" x2="141.23" y2="639.0" stroke="#333" stroke-width="0.7"/>
<text x="133.04" y="645.30" font-size="6.0" fill="#222" text-anchor="middle" >6</text>
<line x1="149.42" y1="637.5" x2="149.42" y2="640.0" stroke="#333" stroke-width="0.7"/>
<text x="149.42" y="645.30" font-size="6.0" fill="#222" text-anchor="middle" >8</text>
<text x="85.20" y="651.60" font-size="6.3" fill="#222" text-anchor="middle" >E-E<tspan baseline-shift="-25%" font-size="70%">f</tspan> (eV)</text>
<text transform="translate(1.8,578.2) rotate(-90)" font-size="7.0" text-anchor="middle" fill="#222">Density of states (a.u.)</text>
<text x="22.30" y="537.80" font-size="5.8" fill="#222" text-anchor="start" >CS<tspan baseline-shift="-25%" font-size="70%">r</tspan>-Pt<tspan baseline-shift="-25%" font-size="70%">3</tspan>Co NPs@N-C</text>
<line x1="114.8" y1="536.7" x2="127.3" y2="536.7" stroke="#a98bd0" stroke-width="1.2"/>
<text x="129.00" y="538.60" font-size="5.4" fill="#222" text-anchor="start" >TDOS</text>
<line x1="114.8" y1="543.6" x2="127.3" y2="543.6" stroke="#e27392" stroke-width="1.2"/>
<text x="129.00" y="545.30" font-size="5.4" fill="#222" text-anchor="start" >Pt-d</text>
<text x="107.80" y="628.00" font-size="5.45" fill="#222" text-anchor="start" >Pt d-band center</text>
<text x="107.80" y="634.70" font-size="5.45" fill="#222" text-anchor="start" >-2.601 eV</text>
<rect x="184.5" y="531.5" width="131.0" height="106.0" fill="url(#bgH)"/>
<text x="166.30" y="538.80" font-size="16" fill="#111" text-anchor="start" >i</text>
<linearGradient id="tu12" gradientUnits="userSpaceOnUse" x1="0" y1="555.48" x2="0" y2="584.1"><stop offset="0" stop-color="#9670c6"/><stop offset="1" stop-color="#dcd0ec"/></linearGradient>
<linearGradient id="pu12" gradientUnits="userSpaceOnUse" x1="0" y1="565.02" x2="0" y2="584.1"><stop offset="0" stop-color="#cf4670"/><stop offset="0.5" stop-color="#e58aa6"/><stop offset="1" stop-color="#fff3f7"/></linearGradient>
<linearGradient id="pd12" gradientUnits="userSpaceOnUse" x1="0" y1="584.1" x2="0" y2="603.1800000000001"><stop offset="0" stop-color="#fbe9f0"/><stop offset="1" stop-color="#ffffff"/></linearGradient>
<path d="M184.18,581.34 C184.81,581.23 186.33,581.47 187.70,580.71 C189.07,579.94 190.31,578.25 191.80,577.10 C193.29,575.96 194.74,576.33 195.97,574.35 C197.21,572.36 197.81,567.07 198.68,566.08 C199.55,565.09 199.92,569.45 200.81,568.84 C201.69,568.23 202.72,562.54 203.59,562.69 C204.46,562.84 204.77,569.68 205.64,569.68 C206.51,569.68 207.42,562.31 208.42,562.69 C209.42,563.07 210.34,571.92 211.21,571.80 C212.08,571.69 212.52,563.31 213.25,562.05 C213.99,560.79 214.56,565.95 215.30,564.81 C216.04,563.66 216.60,556.46 217.35,555.69 C218.10,554.93 218.48,560.84 219.48,560.57 C220.48,560.30 221.80,553.83 222.92,554.21 C224.04,554.59 224.70,561.54 225.70,562.69 C226.71,563.83 227.35,562.09 228.49,560.57 C229.62,559.04 230.89,554.59 232.01,554.21 C233.13,553.83 233.59,557.61 234.71,558.45 C235.83,559.29 236.98,559.25 238.23,558.87 C239.49,558.49 240.54,555.41 241.67,556.33 C242.81,557.24 243.51,563.43 244.54,563.96 C245.57,564.49 246.39,560.17 247.41,559.30 C248.42,558.42 249.31,559.47 250.19,559.08 C251.08,558.70 251.58,555.65 252.32,557.18 C253.06,558.70 253.51,563.56 254.29,567.56 C255.07,571.57 255.87,577.11 256.66,579.44 C257.46,581.76 257.69,580.92 258.71,580.50 C259.73,580.08 261.21,576.80 262.31,577.10 C263.42,577.41 263.73,582.50 264.85,582.19 C265.97,581.89 267.14,575.71 268.54,575.41 C269.94,575.10 271.16,580.42 272.63,580.50 C274.11,580.57 275.43,576.02 276.73,575.83 C278.02,575.64 278.81,578.94 279.84,579.44 C280.87,579.93 281.55,578.70 282.46,578.59 C283.37,578.47 283.81,578.15 284.92,578.80 C286.02,579.45 287.13,582.73 288.60,582.19 C290.08,581.66 291.81,576.02 293.11,575.83 C294.40,575.64 294.82,582.12 295.81,581.13 C296.80,580.14 297.61,570.13 298.59,570.32 C299.58,570.51 300.52,579.75 301.30,582.19 C302.08,584.63 301.90,583.54 302.94,583.89 C303.97,584.23 304.82,584.06 307.03,584.10 C309.24,584.14 313.75,584.10 315.22,584.10 L315.22,584.1 L184.18,584.1 Z" fill="url(#tu12)"/>
<path d="M184.18,586.22 C184.81,586.49 186.33,586.94 187.70,587.70 C189.07,588.47 190.31,589.12 191.80,590.46 C193.29,591.80 194.74,593.29 195.97,595.12 C197.21,596.96 197.81,600.48 198.68,600.64 C199.55,600.79 199.92,595.21 200.81,595.97 C201.69,596.74 202.60,604.38 203.59,604.88 C204.58,605.37 205.32,598.46 206.29,598.73 C207.27,599.00 208.11,605.75 209.00,606.36 C209.88,606.97 210.26,601.62 211.21,602.12 C212.15,602.62 213.13,608.62 214.24,609.12 C215.34,609.61 216.23,604.53 217.35,604.88 C218.47,605.22 219.36,610.53 220.46,611.02 C221.57,611.52 222.30,607.75 223.49,607.63 C224.69,607.52 225.92,610.27 227.10,610.39 C228.27,610.50 228.67,607.50 230.04,608.27 C231.42,609.03 233.39,614.36 234.71,614.63 C236.04,614.90 236.38,610.13 237.41,609.75 C238.45,609.37 239.34,613.61 240.45,612.51 C241.55,611.40 242.48,604.21 243.56,603.60 C244.63,602.99 245.35,607.63 246.42,609.12 C247.50,610.60 248.47,611.76 249.54,611.87 C250.60,611.99 251.47,611.77 252.32,609.75 C253.18,607.73 253.51,604.30 254.29,600.64 C255.07,596.97 255.87,591.73 256.66,589.40 C257.46,587.07 257.69,587.09 258.71,587.70 C259.73,588.31 261.21,592.98 262.31,592.79 C263.42,592.60 263.73,586.53 264.85,586.64 C265.97,586.76 267.14,593.24 268.54,593.43 C269.94,593.62 271.16,588.09 272.63,587.70 C274.11,587.32 275.43,591.31 276.73,591.31 C278.02,591.31 278.37,588.05 279.84,587.70 C281.31,587.36 283.34,589.74 284.92,589.40 C286.49,589.06 287.13,585.34 288.60,585.80 C290.08,586.25 291.81,591.79 293.11,591.94 C294.40,592.10 294.82,585.73 295.81,586.64 C296.80,587.56 297.61,597.18 298.59,597.03 C299.58,596.88 300.52,588.09 301.30,585.80 C302.08,583.51 301.90,584.62 302.94,584.31 C303.97,584.01 304.82,584.14 307.03,584.10 C309.24,584.06 313.75,584.10 315.22,584.10 L315.22,584.1 L184.18,584.1 Z" fill="#fdfbfe"/>
<path d="M184.18,583.04 C185.55,582.73 189.73,582.53 191.80,581.34 C193.86,580.16 194.36,578.45 195.65,576.47 C196.93,574.48 197.74,571.69 198.92,570.32 C200.10,568.95 201.02,568.49 202.20,568.84 C203.38,569.18 204.25,572.23 205.47,572.23 C206.70,572.23 207.82,569.06 209.00,568.84 C210.18,568.61 210.89,571.68 212.03,570.96 C213.16,570.23 214.34,565.04 215.30,564.81 C216.26,564.58 216.10,569.46 217.35,569.68 C218.60,569.91 220.80,565.97 222.26,566.08 C223.72,566.19 224.35,569.82 225.46,570.32 C226.56,570.82 227.23,569.71 228.41,568.84 C229.59,567.96 230.73,565.67 232.01,565.44 C233.29,565.22 234.26,567.30 235.53,567.56 C236.80,567.83 237.95,567.31 239.05,566.93 C240.16,566.55 240.69,564.72 241.67,565.44 C242.66,566.17 243.39,569.81 244.54,570.96 C245.69,572.10 246.79,571.42 248.06,571.80 C249.33,572.19 250.46,572.35 251.58,573.08 C252.70,573.80 253.30,574.34 254.29,575.83 C255.27,577.32 255.98,580.01 257.07,581.34 C258.16,582.68 259.90,582.87 260.35,583.25 C260.79,583.63 259.09,583.62 259.53,583.46 C259.97,583.31 261.62,582.40 262.80,582.40 C263.98,582.40 264.90,583.43 266.08,583.46 C267.26,583.50 268.18,582.62 269.36,582.62 C270.54,582.62 271.45,583.43 272.63,583.46 C273.81,583.50 274.73,582.83 275.91,582.83 C277.09,582.83 278.00,583.50 279.18,583.46 C280.36,583.43 281.28,582.62 282.46,582.62 C283.64,582.62 284.56,583.43 285.74,583.46 C286.92,583.50 287.83,582.83 289.01,582.83 C290.19,582.83 291.11,583.46 292.29,583.46 C293.47,583.46 294.38,582.83 295.56,582.83 C296.74,582.83 297.66,583.43 298.84,583.46 C300.02,583.50 300.94,582.96 302.12,583.04 C303.30,583.12 303.03,583.70 305.39,583.89 C307.75,584.08 313.45,584.06 315.22,584.10 L315.22,584.1 L184.18,584.1 Z" fill="url(#pu12)"/>
<path d="M184.18,584.74 C185.55,584.81 189.73,584.02 191.80,585.16 C193.86,586.30 194.36,589.04 195.65,591.10 C196.93,593.16 197.74,595.88 198.92,596.61 C200.10,597.33 201.02,594.74 202.20,595.12 C203.38,595.51 204.25,599.11 205.47,598.73 C206.70,598.35 207.82,592.89 209.00,593.00 C210.18,593.12 210.89,597.99 212.03,599.36 C213.16,600.74 213.75,600.14 215.30,600.64 C216.85,601.13 218.86,602.62 220.63,602.12 C222.39,601.62 223.58,597.99 225.13,597.88 C226.68,597.77 227.75,601.22 229.22,601.48 C230.70,601.75 231.92,598.75 233.32,599.36 C234.72,599.97 235.83,604.49 237.01,604.88 C238.18,605.26 238.52,602.97 239.87,601.48 C241.23,600.00 242.92,597.26 244.54,596.61 C246.16,595.96 247.36,598.26 248.88,597.88 C250.40,597.50 251.65,596.47 252.98,594.49 C254.30,592.50 255.07,588.73 256.25,586.86 C257.43,584.99 258.50,584.48 259.53,584.10 C260.56,583.72 261.99,584.62 261.99,584.74 C261.99,584.85 259.38,584.55 259.53,584.74 C259.68,584.93 261.62,585.80 262.80,585.80 C263.98,585.80 264.90,584.77 266.08,584.74 C267.26,584.70 268.18,585.58 269.36,585.58 C270.54,585.58 271.45,584.77 272.63,584.74 C273.81,584.70 274.73,585.37 275.91,585.37 C277.09,585.37 278.00,584.70 279.18,584.74 C280.36,584.77 281.28,585.58 282.46,585.58 C283.64,585.58 284.56,584.77 285.74,584.74 C286.92,584.70 287.83,585.37 289.01,585.37 C290.19,585.37 291.11,584.74 292.29,584.74 C293.47,584.74 294.38,585.37 295.56,585.37 C296.74,585.37 297.66,584.77 298.84,584.74 C300.02,584.70 300.94,585.24 302.12,585.16 C303.30,585.08 303.03,584.50 305.39,584.31 C307.75,584.12 313.45,584.14 315.22,584.10 L315.22,584.1 L184.18,584.1 Z" fill="url(#pd12)"/>
<path d="M184.18,581.34 C184.81,581.23 186.33,581.47 187.70,580.71 C189.07,579.94 190.31,578.25 191.80,577.10 C193.29,575.96 194.74,576.33 195.97,574.35 C197.21,572.36 197.81,567.07 198.68,566.08 C199.55,565.09 199.92,569.45 200.81,568.84 C201.69,568.23 202.72,562.54 203.59,562.69 C204.46,562.84 204.77,569.68 205.64,569.68 C206.51,569.68 207.42,562.31 208.42,562.69 C209.42,563.07 210.34,571.92 211.21,571.80 C212.08,571.69 212.52,563.31 213.25,562.05 C213.99,560.79 214.56,565.95 215.30,564.81 C216.04,563.66 216.60,556.46 217.35,555.69 C218.10,554.93 218.48,560.84 219.48,560.57 C220.48,560.30 221.80,553.83 222.92,554.21 C224.04,554.59 224.70,561.54 225.70,562.69 C226.71,563.83 227.35,562.09 228.49,560.57 C229.62,559.04 230.89,554.59 232.01,554.21 C233.13,553.83 233.59,557.61 234.71,558.45 C235.83,559.29 236.98,559.25 238.23,558.87 C239.49,558.49 240.54,555.41 241.67,556.33 C242.81,557.24 243.51,563.43 244.54,563.96 C245.57,564.49 246.39,560.17 247.41,559.30 C248.42,558.42 249.31,559.47 250.19,559.08 C251.08,558.70 251.58,555.65 252.32,557.18 C253.06,558.70 253.51,563.56 254.29,567.56 C255.07,571.57 255.87,577.11 256.66,579.44 C257.46,581.76 257.69,580.92 258.71,580.50 C259.73,580.08 261.21,576.80 262.31,577.10 C263.42,577.41 263.73,582.50 264.85,582.19 C265.97,581.89 267.14,575.71 268.54,575.41 C269.94,575.10 271.16,580.42 272.63,580.50 C274.11,580.57 275.43,576.02 276.73,575.83 C278.02,575.64 278.81,578.94 279.84,579.44 C280.87,579.93 281.55,578.70 282.46,578.59 C283.37,578.47 283.81,578.15 284.92,578.80 C286.02,579.45 287.13,582.73 288.60,582.19 C290.08,581.66 291.81,576.02 293.11,575.83 C294.40,575.64 294.82,582.12 295.81,581.13 C296.80,580.14 297.61,570.13 298.59,570.32 C299.58,570.51 300.52,579.75 301.30,582.19 C302.08,584.63 301.90,583.54 302.94,583.89 C303.97,584.23 304.82,584.06 307.03,584.10 C309.24,584.14 313.75,584.10 315.22,584.10" fill="none" stroke="#8b5cc0" stroke-width="1.1"/>
<path d="M184.18,586.22 C184.81,586.49 186.33,586.94 187.70,587.70 C189.07,588.47 190.31,589.12 191.80,590.46 C193.29,591.80 194.74,593.29 195.97,595.12 C197.21,596.96 197.81,600.48 198.68,600.64 C199.55,600.79 199.92,595.21 200.81,595.97 C201.69,596.74 202.60,604.38 203.59,604.88 C204.58,605.37 205.32,598.46 206.29,598.73 C207.27,599.00 208.11,605.75 209.00,606.36 C209.88,606.97 210.26,601.62 211.21,602.12 C212.15,602.62 213.13,608.62 214.24,609.12 C215.34,609.61 216.23,604.53 217.35,604.88 C218.47,605.22 219.36,610.53 220.46,611.02 C221.57,611.52 222.30,607.75 223.49,607.63 C224.69,607.52 225.92,610.27 227.10,610.39 C228.27,610.50 228.67,607.50 230.04,608.27 C231.42,609.03 233.39,614.36 234.71,614.63 C236.04,614.90 236.38,610.13 237.41,609.75 C238.45,609.37 239.34,613.61 240.45,612.51 C241.55,611.40 242.48,604.21 243.56,603.60 C244.63,602.99 245.35,607.63 246.42,609.12 C247.50,610.60 248.47,611.76 249.54,611.87 C250.60,611.99 251.47,611.77 252.32,609.75 C253.18,607.73 253.51,604.30 254.29,600.64 C255.07,596.97 255.87,591.73 256.66,589.40 C257.46,587.07 257.69,587.09 258.71,587.70 C259.73,588.31 261.21,592.98 262.31,592.79 C263.42,592.60 263.73,586.53 264.85,586.64 C265.97,586.76 267.14,593.24 268.54,593.43 C269.94,593.62 271.16,588.09 272.63,587.70 C274.11,587.32 275.43,591.31 276.73,591.31 C278.02,591.31 278.37,588.05 279.84,587.70 C281.31,587.36 283.34,589.74 284.92,589.40 C286.49,589.06 287.13,585.34 288.60,585.80 C290.08,586.25 291.81,591.79 293.11,591.94 C294.40,592.10 294.82,585.73 295.81,586.64 C296.80,587.56 297.61,597.18 298.59,597.03 C299.58,596.88 300.52,588.09 301.30,585.80 C302.08,583.51 301.90,584.62 302.94,584.31 C303.97,584.01 304.82,584.14 307.03,584.10 C309.24,584.06 313.75,584.10 315.22,584.10" fill="none" stroke="#8b5cc0" stroke-width="1.1"/>
<path d="M184.18,583.04 C185.55,582.73 189.73,582.53 191.80,581.34 C193.86,580.16 194.36,578.45 195.65,576.47 C196.93,574.48 197.74,571.69 198.92,570.32 C200.10,568.95 201.02,568.49 202.20,568.84 C203.38,569.18 204.25,572.23 205.47,572.23 C206.70,572.23 207.82,569.06 209.00,568.84 C210.18,568.61 210.89,571.68 212.03,570.96 C213.16,570.23 214.34,565.04 215.30,564.81 C216.26,564.58 216.10,569.46 217.35,569.68 C218.60,569.91 220.80,565.97 222.26,566.08 C223.72,566.19 224.35,569.82 225.46,570.32 C226.56,570.82 227.23,569.71 228.41,568.84 C229.59,567.96 230.73,565.67 232.01,565.44 C233.29,565.22 234.26,567.30 235.53,567.56 C236.80,567.83 237.95,567.31 239.05,566.93 C240.16,566.55 240.69,564.72 241.67,565.44 C242.66,566.17 243.39,569.81 244.54,570.96 C245.69,572.10 246.79,571.42 248.06,571.80 C249.33,572.19 250.46,572.35 251.58,573.08 C252.70,573.80 253.30,574.34 254.29,575.83 C255.27,577.32 255.98,580.01 257.07,581.34 C258.16,582.68 259.90,582.87 260.35,583.25 C260.79,583.63 259.09,583.62 259.53,583.46 C259.97,583.31 261.62,582.40 262.80,582.40 C263.98,582.40 264.90,583.43 266.08,583.46 C267.26,583.50 268.18,582.62 269.36,582.62 C270.54,582.62 271.45,583.43 272.63,583.46 C273.81,583.50 274.73,582.83 275.91,582.83 C277.09,582.83 278.00,583.50 279.18,583.46 C280.36,583.43 281.28,582.62 282.46,582.62 C283.64,582.62 284.56,583.43 285.74,583.46 C286.92,583.50 287.83,582.83 289.01,582.83 C290.19,582.83 291.11,583.46 292.29,583.46 C293.47,583.46 294.38,582.83 295.56,582.83 C296.74,582.83 297.66,583.43 298.84,583.46 C300.02,583.50 300.94,582.96 302.12,583.04 C303.30,583.12 303.03,583.70 305.39,583.89 C307.75,584.08 313.45,584.06 315.22,584.10" fill="none" stroke="#e0486e" stroke-width="1.1"/>
<path d="M184.18,584.74 C185.55,584.81 189.73,584.02 191.80,585.16 C193.86,586.30 194.36,589.04 195.65,591.10 C196.93,593.16 197.74,595.88 198.92,596.61 C200.10,597.33 201.02,594.74 202.20,595.12 C203.38,595.51 204.25,599.11 205.47,598.73 C206.70,598.35 207.82,592.89 209.00,593.00 C210.18,593.12 210.89,597.99 212.03,599.36 C213.16,600.74 213.75,600.14 215.30,600.64 C216.85,601.13 218.86,602.62 220.63,602.12 C222.39,601.62 223.58,597.99 225.13,597.88 C226.68,597.77 227.75,601.22 229.22,601.48 C230.70,601.75 231.92,598.75 233.32,599.36 C234.72,599.97 235.83,604.49 237.01,604.88 C238.18,605.26 238.52,602.97 239.87,601.48 C241.23,600.00 242.92,597.26 244.54,596.61 C246.16,595.96 247.36,598.26 248.88,597.88 C250.40,597.50 251.65,596.47 252.98,594.49 C254.30,592.50 255.07,588.73 256.25,586.86 C257.43,584.99 258.50,584.48 259.53,584.10 C260.56,583.72 261.99,584.62 261.99,584.74 C261.99,584.85 259.38,584.55 259.53,584.74 C259.68,584.93 261.62,585.80 262.80,585.80 C263.98,585.80 264.90,584.77 266.08,584.74 C267.26,584.70 268.18,585.58 269.36,585.58 C270.54,585.58 271.45,584.77 272.63,584.74 C273.81,584.70 274.73,585.37 275.91,585.37 C277.09,585.37 278.00,584.70 279.18,584.74 C280.36,584.77 281.28,585.58 282.46,585.58 C283.64,585.58 284.56,584.77 285.74,584.74 C286.92,584.70 287.83,585.37 289.01,585.37 C290.19,585.37 291.11,584.74 292.29,584.74 C293.47,584.74 294.38,585.37 295.56,585.37 C296.74,585.37 297.66,584.77 298.84,584.74 C300.02,584.70 300.94,585.24 302.12,585.16 C303.30,585.08 303.03,584.50 305.39,584.31 C307.75,584.12 313.45,584.14 315.22,584.10" fill="none" stroke="#e0486e" stroke-width="1.1"/>
<line x1="249.7" y1="531.5" x2="249.7" y2="637.5" stroke="#444" stroke-width="1" stroke-dasharray="3,2"/>
<rect x="184.5" y="531.5" width="131.0" height="106.0" fill="none" stroke="#555" stroke-width="1"/>
<line x1="182.0" y1="541.70" x2="184.5" y2="541.70" stroke="#333" stroke-width="0.7"/>
<text x="180.90" y="543.90" font-size="6.2" fill="#222" text-anchor="end" >200</text>
<line x1="183.0" y1="552.30" x2="184.5" y2="552.30" stroke="#333" stroke-width="0.7"/>
<line x1="182.0" y1="562.90" x2="184.5" y2="562.90" stroke="#333" stroke-width="0.7"/>
<text x="180.90" y="565.10" font-size="6.2" fill="#222" text-anchor="end" >100</text>
<line x1="183.0" y1="573.50" x2="184.5" y2="573.50" stroke="#333" stroke-width="0.7"/>
<line x1="182.0" y1="584.10" x2="184.5" y2="584.10" stroke="#333" stroke-width="0.7"/>
<text x="180.90" y="586.30" font-size="6.2" fill="#222" text-anchor="end" >0</text>
<line x1="183.0" y1="594.70" x2="184.5" y2="594.70" stroke="#333" stroke-width="0.7"/>
<line x1="182.0" y1="605.30" x2="184.5" y2="605.30" stroke="#333" stroke-width="0.7"/>
<text x="180.90" y="607.50" font-size="6.2" fill="#222" text-anchor="end" >-100</text>
<line x1="183.0" y1="615.90" x2="184.5" y2="615.90" stroke="#333" stroke-width="0.7"/>
<line x1="182.0" y1="626.50" x2="184.5" y2="626.50" stroke="#333" stroke-width="0.7"/>
<text x="180.90" y="628.70" font-size="6.2" fill="#222" text-anchor="end" >-200</text>
<line x1="184.18" y1="637.5" x2="184.18" y2="640.0" stroke="#333" stroke-width="0.7"/>
<line x1="192.37" y1="637.5" x2="192.37" y2="639.0" stroke="#333" stroke-width="0.7"/>
<text x="184.18" y="645.30" font-size="6.0" fill="#222" text-anchor="middle" >-8</text>
<line x1="200.56" y1="637.5" x2="200.56" y2="640.0" stroke="#333" stroke-width="0.7"/>
<line x1="208.75" y1="637.5" x2="208.75" y2="639.0" stroke="#333" stroke-width="0.7"/>
<text x="200.56" y="645.30" font-size="6.0" fill="#222" text-anchor="middle" >-6</text>
<line x1="216.94" y1="637.5" x2="216.94" y2="640.0" stroke="#333" stroke-width="0.7"/>
<line x1="225.13" y1="637.5" x2="225.13" y2="639.0" stroke="#333" stroke-width="0.7"/>
<text x="216.94" y="645.30" font-size="6.0" fill="#222" text-anchor="middle" >-4</text>
<line x1="233.32" y1="637.5" x2="233.32" y2="640.0" stroke="#333" stroke-width="0.7"/>
<line x1="241.51" y1="637.5" x2="241.51" y2="639.0" stroke="#333" stroke-width="0.7"/>
<text x="233.32" y="645.30" font-size="6.0" fill="#222" text-anchor="middle" >-2</text>
<line x1="249.70" y1="637.5" x2="249.70" y2="640.0" stroke="#333" stroke-width="0.7"/>
<line x1="257.89" y1="637.5" x2="257.89" y2="639.0" stroke="#333" stroke-width="0.7"/>
<text x="249.70" y="645.30" font-size="6.0" fill="#222" text-anchor="middle" >0</text>
<line x1="266.08" y1="637.5" x2="266.08" y2="640.0" stroke="#333" stroke-width="0.7"/>
<line x1="274.27" y1="637.5" x2="274.27" y2="639.0" stroke="#333" stroke-width="0.7"/>
<text x="266.08" y="645.30" font-size="6.0" fill="#222" text-anchor="middle" >2</text>
<line x1="282.46" y1="637.5" x2="282.46" y2="640.0" stroke="#333" stroke-width="0.7"/>
<line x1="290.65" y1="637.5" x2="290.65" y2="639.0" stroke="#333" stroke-width="0.7"/>
<text x="282.46" y="645.30" font-size="6.0" fill="#222" text-anchor="middle" >4</text>
<line x1="298.84" y1="637.5" x2="298.84" y2="640.0" stroke="#333" stroke-width="0.7"/>
<line x1="307.03" y1="637.5" x2="307.03" y2="639.0" stroke="#333" stroke-width="0.7"/>
<text x="298.84" y="645.30" font-size="6.0" fill="#222" text-anchor="middle" >6</text>
<line x1="315.22" y1="637.5" x2="315.22" y2="640.0" stroke="#333" stroke-width="0.7"/>
<text x="315.22" y="645.30" font-size="6.0" fill="#222" text-anchor="middle" >8</text>
<text x="251.00" y="651.60" font-size="6.3" fill="#222" text-anchor="middle" >E-E<tspan baseline-shift="-25%" font-size="70%">f</tspan> (eV)</text>
<text transform="translate(168.2,578.2) rotate(-90)" font-size="7.0" text-anchor="middle" fill="#222">Density of states (a.u.)</text>
<text x="185.90" y="537.80" font-size="5.8" fill="#222" text-anchor="start" >CS<tspan baseline-shift="-25%" font-size="70%">p</tspan>-Pt<tspan baseline-shift="-25%" font-size="70%">3</tspan>Co NPs@N-C</text>
<line x1="280.8" y1="536.7" x2="293.3" y2="536.7" stroke="#a98bd0" stroke-width="1.2"/>
<text x="295.00" y="538.60" font-size="5.4" fill="#222" text-anchor="start" >TDOS</text>
<line x1="280.8" y1="543.6" x2="293.3" y2="543.6" stroke="#e27392" stroke-width="1.2"/>
<text x="295.00" y="545.30" font-size="5.4" fill="#222" text-anchor="start" >Pt-d</text>
<text x="273.80" y="628.00" font-size="5.45" fill="#222" text-anchor="start" >Pt d-band center</text>
<text x="273.80" y="634.70" font-size="5.45" fill="#222" text-anchor="start" >-2.459 eV</text>
<text x="342.00" y="538.50" font-size="16" fill="#111" text-anchor="start" >j</text>
<rect x="368.60" y="548.70" width="40.38" height="37.76" fill="#1e5288"/>
<circle cx="371.97" cy="553.42" r="3.45" fill="url(#gPt)"/>
<circle cx="378.70" cy="553.42" r="3.45" fill="url(#gPt)"/>
<circle cx="385.43" cy="553.42" r="3.45" fill="url(#gPt)"/>
<circle cx="392.16" cy="553.42" r="3.45" fill="url(#gPt)"/>
<circle cx="398.89" cy="553.42" r="3.45" fill="url(#gPt)"/>
<circle cx="405.62" cy="553.42" r="3.45" fill="url(#gPt)"/>
<circle cx="371.97" cy="562.86" r="3.45" fill="url(#gPt)"/>
<circle cx="378.70" cy="562.86" r="3.45" fill="url(#gPt)"/>
<circle cx="385.43" cy="562.86" r="3.45" fill="url(#gPt)"/>
<circle cx="392.16" cy="562.86" r="3.45" fill="url(#gPt)"/>
<circle cx="398.89" cy="562.86" r="3.45" fill="url(#gPt)"/>
<circle cx="405.62" cy="562.86" r="3.45" fill="url(#gPt)"/>
<circle cx="371.97" cy="572.30" r="3.45" fill="url(#gPt)"/>
<circle cx="378.70" cy="572.30" r="3.45" fill="url(#gPt)"/>
<circle cx="385.43" cy="572.30" r="3.45" fill="url(#gPt)"/>
<circle cx="392.16" cy="572.30" r="3.45" fill="url(#gPt)"/>
<circle cx="398.89" cy="572.30" r="3.45" fill="url(#gPt)"/>
<circle cx="405.62" cy="572.30" r="3.45" fill="url(#gPt)"/>
<circle cx="371.97" cy="581.74" r="3.45" fill="url(#gPt)"/>
<circle cx="378.70" cy="581.74" r="3.45" fill="url(#gPt)"/>
<circle cx="385.43" cy="581.74" r="3.45" fill="url(#gPt)"/>
<circle cx="392.16" cy="581.74" r="3.45" fill="url(#gPt)"/>
<circle cx="398.89" cy="581.74" r="3.45" fill="url(#gPt)"/>
<circle cx="405.62" cy="581.74" r="3.45" fill="url(#gPt)"/>
<circle cx="368.60" cy="548.70" r="3.45" fill="url(#gCo)"/>
<circle cx="375.33" cy="548.70" r="3.45" fill="url(#gPt)"/>
<circle cx="382.06" cy="548.70" r="3.45" fill="url(#gCo)"/>
<circle cx="388.79" cy="548.70" r="3.45" fill="url(#gPt)"/>
<circle cx="395.52" cy="548.70" r="3.45" fill="url(#gCo)"/>
<circle cx="402.25" cy="548.70" r="3.45" fill="url(#gPt)"/>
<circle cx="408.98" cy="548.70" r="3.45" fill="url(#gCo)"/>
<circle cx="368.60" cy="558.14" r="3.45" fill="url(#gCo)"/>
<circle cx="375.33" cy="558.14" r="3.45" fill="url(#gPt)"/>
<circle cx="382.06" cy="558.14" r="3.45" fill="url(#gCo)"/>
<circle cx="388.79" cy="558.14" r="3.45" fill="url(#gPt)"/>
<circle cx="395.52" cy="558.14" r="3.45" fill="url(#gCo)"/>
<circle cx="402.25" cy="558.14" r="3.45" fill="url(#gPt)"/>
<circle cx="408.98" cy="558.14" r="3.45" fill="url(#gCo)"/>
<circle cx="368.60" cy="567.58" r="3.45" fill="url(#gCo)"/>
<circle cx="375.33" cy="567.58" r="3.45" fill="url(#gPt)"/>
<circle cx="382.06" cy="567.58" r="3.45" fill="url(#gCo)"/>
<circle cx="388.79" cy="567.58" r="3.45" fill="url(#gPt)"/>
<circle cx="395.52" cy="567.58" r="3.45" fill="url(#gCo)"/>
<circle cx="402.25" cy="567.58" r="3.45" fill="url(#gPt)"/>
<circle cx="408.98" cy="567.58" r="3.45" fill="url(#gCo)"/>
<circle cx="368.60" cy="577.02" r="3.45" fill="url(#gCo)"/>
<circle cx="375.33" cy="577.02" r="3.45" fill="url(#gPt)"/>
<circle cx="382.06" cy="577.02" r="3.45" fill="url(#gCo)"/>
<circle cx="388.79" cy="577.02" r="3.45" fill="url(#gPt)"/>
<circle cx="395.52" cy="577.02" r="3.45" fill="url(#gCo)"/>
<circle cx="402.25" cy="577.02" r="3.45" fill="url(#gPt)"/>
<circle cx="408.98" cy="577.02" r="3.45" fill="url(#gCo)"/>
<circle cx="368.60" cy="586.46" r="3.45" fill="url(#gCo)"/>
<circle cx="375.33" cy="586.46" r="3.45" fill="url(#gPt)"/>
<circle cx="382.06" cy="586.46" r="3.45" fill="url(#gCo)"/>
<circle cx="388.79" cy="586.46" r="3.45" fill="url(#gPt)"/>
<circle cx="395.52" cy="586.46" r="3.45" fill="url(#gCo)"/>
<circle cx="402.25" cy="586.46" r="3.45" fill="url(#gPt)"/>
<circle cx="408.98" cy="586.46" r="3.45" fill="url(#gCo)"/>
<rect x="368.53" y="601.84" width="41.23" height="38.57" fill="#1e5288"/>
<circle cx="366.41" cy="606.42" r="3.40" fill="url(#gPt)"/>
<circle cx="409.43" cy="606.42" r="3.40" fill="url(#gPt)"/>
<circle cx="366.41" cy="616.40" r="3.40" fill="url(#gPt)"/>
<circle cx="409.43" cy="616.40" r="3.40" fill="url(#gPt)"/>
<circle cx="366.41" cy="624.51" r="3.40" fill="url(#gPt)"/>
<circle cx="409.43" cy="624.51" r="3.40" fill="url(#gPt)"/>
<circle cx="366.41" cy="634.42" r="3.40" fill="url(#gPt)"/>
<circle cx="409.43" cy="634.42" r="3.40" fill="url(#gPt)"/>
<circle cx="369.20" cy="602.50" r="3.40" fill="url(#gCo)"/>
<circle cx="375.85" cy="602.50" r="3.40" fill="url(#gPt)"/>
<circle cx="382.50" cy="602.50" r="3.40" fill="url(#gCo)"/>
<circle cx="389.15" cy="602.50" r="3.40" fill="url(#gPt)"/>
<circle cx="395.80" cy="602.50" r="3.40" fill="url(#gCo)"/>
<circle cx="402.45" cy="602.50" r="3.40" fill="url(#gPt)"/>
<circle cx="409.10" cy="602.50" r="3.40" fill="url(#gCo)"/>
<circle cx="369.20" cy="612.48" r="3.40" fill="url(#gCo)"/>
<circle cx="375.85" cy="612.48" r="3.40" fill="url(#gPt)"/>
<circle cx="382.50" cy="612.48" r="3.40" fill="url(#gCo)"/>
<circle cx="389.15" cy="612.48" r="3.40" fill="url(#gPt)"/>
<circle cx="395.80" cy="612.48" r="3.40" fill="url(#gCo)"/>
<circle cx="402.45" cy="612.48" r="3.40" fill="url(#gPt)"/>
<circle cx="409.10" cy="612.48" r="3.40" fill="url(#gCo)"/>
<circle cx="369.20" cy="621.39" r="3.40" fill="url(#gCo)"/>
<circle cx="375.85" cy="621.39" r="3.40" fill="url(#gPt)"/>
<circle cx="382.50" cy="621.39" r="3.40" fill="url(#gCo)"/>
<circle cx="389.15" cy="621.39" r="3.40" fill="url(#gPt)"/>
<circle cx="395.80" cy="621.39" r="3.40" fill="url(#gCo)"/>
<circle cx="402.45" cy="621.39" r="3.40" fill="url(#gPt)"/>
<circle cx="409.10" cy="621.39" r="3.40" fill="url(#gCo)"/>
<circle cx="369.20" cy="630.16" r="3.40" fill="url(#gCo)"/>
<circle cx="375.85" cy="630.16" r="3.40" fill="url(#gPt)"/>
<circle cx="382.50" cy="630.16" r="3.40" fill="url(#gCo)"/>
<circle cx="389.15" cy="630.16" r="3.40" fill="url(#gPt)"/>
<circle cx="395.80" cy="630.16" r="3.40" fill="url(#gCo)"/>
<circle cx="402.45" cy="630.16" r="3.40" fill="url(#gPt)"/>
<circle cx="409.10" cy="630.16" r="3.40" fill="url(#gCo)"/>
<circle cx="369.20" cy="639.87" r="3.40" fill="url(#gCo)"/>
<circle cx="375.85" cy="639.87" r="3.40" fill="url(#gPt)"/>
<circle cx="382.50" cy="639.87" r="3.40" fill="url(#gCo)"/>
<circle cx="389.15" cy="639.87" r="3.40" fill="url(#gPt)"/>
<circle cx="395.80" cy="639.87" r="3.40" fill="url(#gCo)"/>
<circle cx="402.45" cy="639.87" r="3.40" fill="url(#gPt)"/>
<circle cx="409.10" cy="639.87" r="3.40" fill="url(#gCo)"/>
<circle cx="372.52" cy="607.22" r="3.40" fill="url(#gPt)"/>
<circle cx="379.18" cy="607.22" r="3.40" fill="url(#gPt)"/>
<circle cx="385.82" cy="607.22" r="3.40" fill="url(#gPt)"/>
<circle cx="392.47" cy="607.22" r="3.40" fill="url(#gPt)"/>
<circle cx="399.12" cy="607.22" r="3.40" fill="url(#gPt)"/>
<circle cx="405.77" cy="607.22" r="3.40" fill="url(#gPt)"/>
<circle cx="372.52" cy="617.20" r="3.40" fill="url(#gPt)"/>
<circle cx="379.18" cy="617.20" r="3.40" fill="url(#gPt)"/>
<circle cx="385.82" cy="617.20" r="3.40" fill="url(#gPt)"/>
<circle cx="392.47" cy="617.20" r="3.40" fill="url(#gPt)"/>
<circle cx="399.12" cy="617.20" r="3.40" fill="url(#gPt)"/>
<circle cx="405.77" cy="617.20" r="3.40" fill="url(#gPt)"/>
<circle cx="372.52" cy="625.31" r="3.40" fill="url(#gPt)"/>
<circle cx="379.18" cy="625.31" r="3.40" fill="url(#gPt)"/>
<circle cx="385.82" cy="625.31" r="3.40" fill="url(#gPt)"/>
<circle cx="392.47" cy="625.31" r="3.40" fill="url(#gPt)"/>
<circle cx="399.12" cy="625.31" r="3.40" fill="url(#gPt)"/>
<circle cx="405.77" cy="625.31" r="3.40" fill="url(#gPt)"/>
<circle cx="372.52" cy="635.22" r="3.40" fill="url(#gPt)"/>
<circle cx="379.18" cy="635.22" r="3.40" fill="url(#gPt)"/>
<circle cx="385.82" cy="635.22" r="3.40" fill="url(#gPt)"/>
<circle cx="392.47" cy="635.22" r="3.40" fill="url(#gPt)"/>
<circle cx="399.12" cy="635.22" r="3.40" fill="url(#gPt)"/>
<circle cx="405.77" cy="635.22" r="3.40" fill="url(#gPt)"/>
<line x1="357.1" y1="562.7" x2="407.8" y2="562.7" stroke="#111" stroke-width="1.0" stroke-dasharray="2.6,1.8"/>
<line x1="357.1" y1="572.6" x2="407.8" y2="572.6" stroke="#111" stroke-width="1.0" stroke-dasharray="2.6,1.8"/>
<line x1="358.3" y1="617.3" x2="409.0" y2="617.3" stroke="#111" stroke-width="1.0" stroke-dasharray="2.6,1.8"/>
<line x1="358.3" y1="625.2" x2="409.0" y2="625.2" stroke="#111" stroke-width="1.0" stroke-dasharray="2.6,1.8"/>
<circle cx="388.70" cy="567.00" r="3.60" fill="url(#gLi)"/>
<circle cx="386.90" cy="572.40" r="1.90" fill="url(#gO)"/>
<circle cx="390.60" cy="572.40" r="1.90" fill="url(#gO)"/>
<circle cx="389.40" cy="620.60" r="3.60" fill="url(#gLi)"/>
<circle cx="387.60" cy="625.60" r="1.90" fill="url(#gO)"/>
<circle cx="391.20" cy="625.60" r="1.90" fill="url(#gO)"/>
<text x="351.80" y="570.60" font-size="6.8" fill="#444" text-anchor="start" >0%</text>
<text x="348.60" y="623.90" font-size="6.8" fill="#444" text-anchor="start" >-5%</text>
<path d="M482.3,548.2 C478,552 468,556 455,557.3 C466,559 477,562 482.3,566.9 Z" fill="#b99bd3"/>
<path d="M482.3,565.9 C478,569 468,572 455,572.8 C466,574 477,578 482.3,583.0 Z" fill="#c9405f"/>
<path d="M482.3,622.0 C478,626 472,630.5 462.5,632.2 C472,633.5 478,637 482.3,641.0 Z" fill="#3b9b8a"/>
<path d="M482.3,594.3 C505,594.3 520.1,597.5 520.1,602.3 C520.1,607.1 505,610.4 482.3,610.4 Z" fill="#b99bd3"/>
<path d="M482.3,608.9 C505,608.9 520.1,612.4 520.1,617.2 C520.1,622.0 505,625.5 482.3,625.5 Z" fill="#c9405f"/>
<line x1="482.3" y1="534" x2="482.3" y2="653" stroke="#111" stroke-width="1.2"/>
<line x1="481.7" y1="652.6" x2="529" y2="652.6" stroke="#111" stroke-width="1.2"/>
<path d="M482.3,532.2 L479.4,538.2 L482.3,536.6 L485.2,538.2 Z" fill="#111" stroke="#111" stroke-width="0.6"/>
<line x1="482.3" y1="580.2" x2="524.5" y2="580.2" stroke="#111" stroke-width="1.1" stroke-dasharray="2.6,1.6"/>
<text x="527.2" y="583.8" font-size="9.6" font-style="italic" fill="#111">E<tspan font-size="6.2" dy="2">Fermi</tspan></text>
<rect x="457.4" y="560.8" width="2.7" height="8" fill="#1f6fbf"/>
<path d="M455.9,568.4 L461.6,568.4 L458.75,572.4 Z" fill="#1f6fbf"/>
<path d="M452.9,573.6 L444.8,610.6 L461.6,632.2 M444.8,610.6 L432.5,610.6" fill="none" stroke="#1f6fbf" stroke-width="1.3" stroke-dasharray="3.2,2.2"/>
<text x="428.80" y="618.80" font-size="9.3" fill="#3b9b8a" text-anchor="start" >LiO<tspan baseline-shift="-25%" font-size="70%">2</tspan></text>
<text x="526.00" y="606.00" font-size="9.35" fill="#b99bd3" text-anchor="start" >CS<tspan baseline-shift="-25%" font-size="70%">p</tspan>-Pt<tspan baseline-shift="-25%" font-size="70%">3</tspan>Co NPs@N-C</text>
<text x="526.00" y="621.40" font-size="9.35" fill="#c9405f" text-anchor="start" >CS<tspan baseline-shift="-25%" font-size="70%">r</tspan>-Pt<tspan baseline-shift="-25%" font-size="70%">3</tspan>Co NPs@N-C</text>
</svg>
</body></html>
